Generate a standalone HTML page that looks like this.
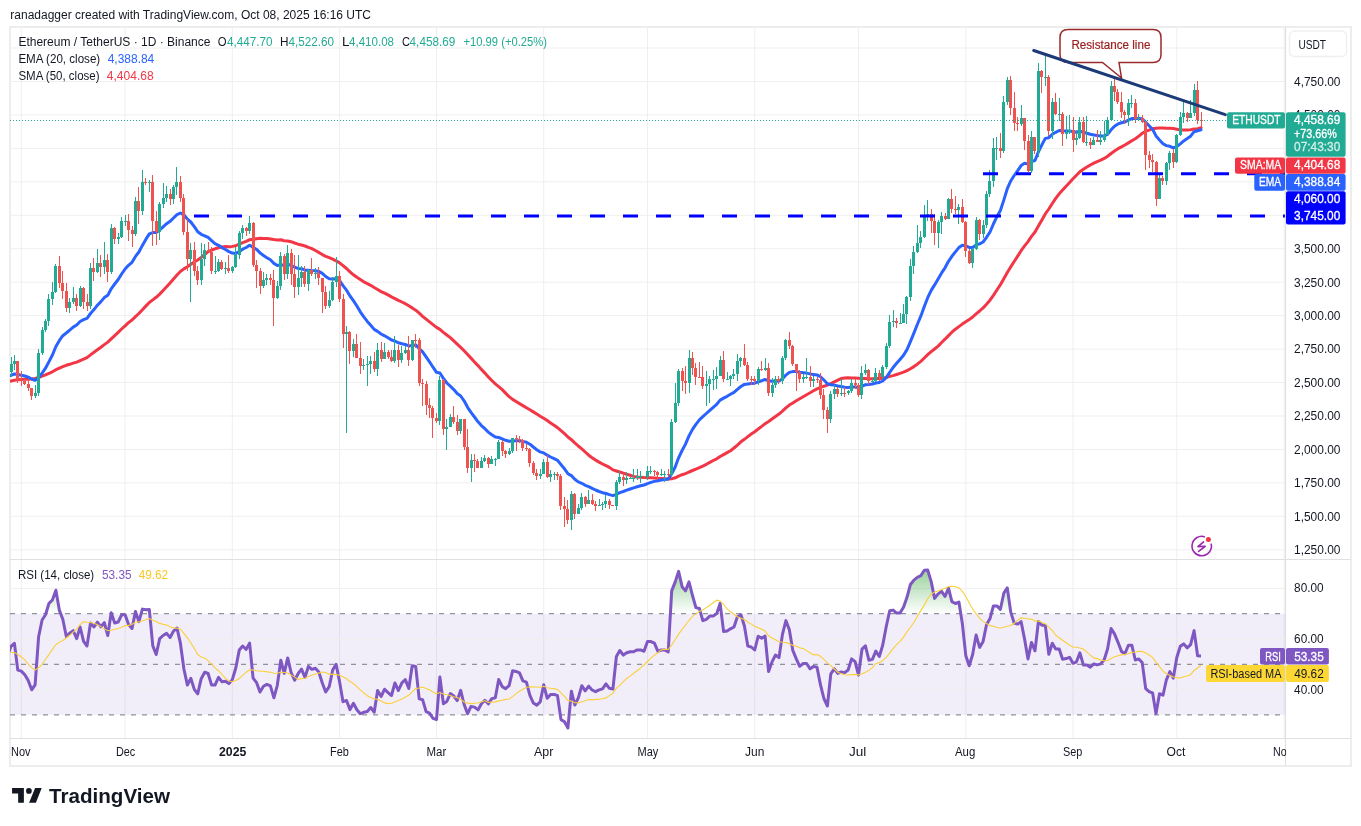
<!DOCTYPE html><html><head><meta charset="utf-8"><style>
html,body{margin:0;padding:0;background:#fff;width:1361px;height:826px;overflow:hidden}
svg{display:block;font-family:"Liberation Sans",sans-serif;will-change:transform}
</style></head><body>
<svg width="1361" height="826" viewBox="0 0 1361 826">
<defs>
<clipPath id="mp"><rect x="10" y="27" width="1275" height="532"/></clipPath>
<clipPath id="rp"><rect x="10" y="560" width="1275" height="178"/></clipPath>
</defs>
<rect width="1361" height="826" fill="#fff"/>

<rect x="10" y="27" width="1341" height="739" fill="none" stroke="#ececec" stroke-width="1.8"/>
<line x1="10" x2="1285" y1="549.8" y2="549.8" stroke="#efefef" stroke-width="1"/>
<line x1="10" x2="1285" y1="516.3" y2="516.3" stroke="#efefef" stroke-width="1"/>
<line x1="10" x2="1285" y1="482.9" y2="482.9" stroke="#efefef" stroke-width="1"/>
<line x1="10" x2="1285" y1="449.4" y2="449.4" stroke="#efefef" stroke-width="1"/>
<line x1="10" x2="1285" y1="416.0" y2="416.0" stroke="#efefef" stroke-width="1"/>
<line x1="10" x2="1285" y1="382.5" y2="382.5" stroke="#efefef" stroke-width="1"/>
<line x1="10" x2="1285" y1="349.1" y2="349.1" stroke="#efefef" stroke-width="1"/>
<line x1="10" x2="1285" y1="315.6" y2="315.6" stroke="#efefef" stroke-width="1"/>
<line x1="10" x2="1285" y1="282.2" y2="282.2" stroke="#efefef" stroke-width="1"/>
<line x1="10" x2="1285" y1="248.7" y2="248.7" stroke="#efefef" stroke-width="1"/>
<line x1="10" x2="1285" y1="215.3" y2="215.3" stroke="#efefef" stroke-width="1"/>
<line x1="10" x2="1285" y1="181.8" y2="181.8" stroke="#efefef" stroke-width="1"/>
<line x1="10" x2="1285" y1="148.4" y2="148.4" stroke="#efefef" stroke-width="1"/>
<line x1="10" x2="1285" y1="114.9" y2="114.9" stroke="#efefef" stroke-width="1"/>
<line x1="10" x2="1285" y1="81.5" y2="81.5" stroke="#efefef" stroke-width="1"/>
<line x1="10" x2="1285" y1="48.0" y2="48.0" stroke="#efefef" stroke-width="1"/>
<line x1="21.3" x2="21.3" y1="27" y2="738" stroke="#efefef" stroke-width="1"/>
<line x1="125.1" x2="125.1" y1="27" y2="738" stroke="#efefef" stroke-width="1"/>
<line x1="232.3" x2="232.3" y1="27" y2="738" stroke="#efefef" stroke-width="1"/>
<line x1="339.6" x2="339.6" y1="27" y2="738" stroke="#efefef" stroke-width="1"/>
<line x1="436.5" x2="436.5" y1="27" y2="738" stroke="#efefef" stroke-width="1"/>
<line x1="543.7" x2="543.7" y1="27" y2="738" stroke="#efefef" stroke-width="1"/>
<line x1="647.5" x2="647.5" y1="27" y2="738" stroke="#efefef" stroke-width="1"/>
<line x1="754.7" x2="754.7" y1="27" y2="738" stroke="#efefef" stroke-width="1"/>
<line x1="858.5" x2="858.5" y1="27" y2="738" stroke="#efefef" stroke-width="1"/>
<line x1="965.8" x2="965.8" y1="27" y2="738" stroke="#efefef" stroke-width="1"/>
<line x1="1073.0" x2="1073.0" y1="27" y2="738" stroke="#efefef" stroke-width="1"/>
<line x1="1176.8" x2="1176.8" y1="27" y2="738" stroke="#efefef" stroke-width="1"/>
<line x1="1284.1" x2="1284.1" y1="27" y2="738" stroke="#efefef" stroke-width="1"/>
<rect x="10" y="613.7" width="1275" height="101.2" fill="#7e57c2" fill-opacity="0.1"/>
<line x1="10" x2="1285" y1="588.4" y2="588.4" stroke="#efefef"/>
<line x1="10" x2="1285" y1="639.0" y2="639.0" stroke="#efefef"/>
<line x1="10" x2="1285" y1="689.6" y2="689.6" stroke="#efefef"/>
<line x1="10" x2="1285" y1="613.7" y2="613.7" stroke="#787b86" stroke-dasharray="5 6" stroke-width="1"/>
<line x1="10" x2="1285" y1="664.3" y2="664.3" stroke="#787b86" stroke-dasharray="5 6" stroke-width="1"/>
<line x1="10" x2="1285" y1="714.9" y2="714.9" stroke="#787b86" stroke-dasharray="5 6" stroke-width="1"/>
<g clip-path="url(#mp)">
<polyline points="4.0,382.5 7.5,381.8 10.9,381.0 14.4,380.3 17.8,379.8 21.3,379.4 24.8,379.3 28.2,379.2 31.7,378.9 35.1,378.5 38.6,377.5 42.1,376.1 45.5,374.8 49.0,373.3 52.4,371.8 55.9,369.7 59.4,368.1 62.8,366.6 66.3,365.3 69.7,364.3 73.2,363.1 76.7,362.1 80.1,360.6 83.6,359.2 87.0,357.6 90.5,354.9 94.0,352.3 97.4,349.7 100.9,347.2 104.3,344.6 107.8,342.1 111.2,338.9 114.7,335.7 118.2,332.4 121.6,329.0 125.1,325.8 128.5,322.6 132.0,320.0 135.5,316.6 138.9,313.5 142.4,309.7 145.8,306.1 149.3,302.5 152.8,299.9 156.2,297.3 159.7,294.1 163.1,290.5 166.6,286.8 170.1,282.9 173.5,279.0 177.0,275.0 180.4,271.5 183.9,268.9 187.4,266.8 190.8,264.2 194.3,262.0 197.7,260.0 201.2,257.4 204.7,254.5 208.1,251.6 211.6,250.0 215.0,248.8 218.5,247.7 222.0,247.1 225.4,246.6 228.9,246.7 232.3,246.4 235.8,245.7 239.3,244.2 242.7,242.7 246.2,241.4 249.6,239.7 253.1,239.3 256.6,238.7 260.0,238.3 263.5,238.5 266.9,238.6 270.4,239.0 273.9,239.6 277.3,240.1 280.8,239.8 284.2,240.7 287.7,241.0 291.1,241.7 294.6,243.0 298.1,244.2 301.5,245.0 305.0,246.0 308.4,247.4 311.9,248.7 315.4,250.5 318.8,252.4 322.3,254.6 325.7,256.3 329.2,257.7 332.7,259.2 336.1,260.8 339.6,262.9 343.0,265.6 346.5,268.5 350.0,271.9 353.4,274.8 356.9,277.3 360.3,279.5 363.8,281.8 367.3,283.6 370.7,285.3 374.2,287.5 377.6,289.5 381.1,291.6 384.6,293.2 388.0,294.9 391.5,296.9 394.9,298.6 398.4,300.4 401.9,302.0 405.3,303.7 408.8,305.8 412.2,307.9 415.7,310.2 419.2,313.2 422.6,316.4 426.1,319.2 429.5,321.9 433.0,324.6 436.5,327.4 439.9,329.4 443.4,332.4 446.8,335.0 450.3,337.6 453.8,340.9 457.2,344.1 460.7,347.4 464.1,350.8 467.6,354.5 471.0,358.1 474.5,361.9 478.0,365.6 481.4,369.4 484.9,373.1 488.3,376.9 491.8,380.5 495.3,383.9 498.7,386.6 502.2,389.6 505.6,393.1 509.1,396.6 512.6,399.4 516.0,401.5 519.5,403.6 522.9,405.6 526.4,407.7 529.9,409.8 533.3,411.9 536.8,414.1 540.2,416.3 543.7,418.3 547.2,420.5 550.6,422.9 554.1,425.2 557.5,427.7 561.0,430.7 564.5,433.6 567.9,437.0 571.4,439.7 574.8,442.9 578.3,446.0 581.8,448.8 585.2,452.0 588.7,455.2 592.1,457.7 595.6,460.1 599.1,462.1 602.5,464.0 606.0,465.7 609.4,467.4 612.9,469.9 616.4,471.0 619.8,472.0 623.3,473.2 626.7,474.3 630.2,475.3 633.6,476.4 637.1,477.0 640.6,477.2 644.0,477.5 647.5,477.7 650.9,477.8 654.4,478.0 657.9,478.3 661.3,478.5 664.8,478.8 668.2,479.1 671.7,478.7 675.2,477.8 678.6,476.1 682.1,474.7 685.5,473.6 689.0,472.0 692.5,470.5 695.9,469.1 699.4,467.7 702.8,466.1 706.3,464.3 709.8,462.4 713.2,460.5 716.7,458.8 720.1,456.5 723.6,454.6 727.1,452.6 730.5,450.7 734.0,448.0 737.4,445.1 740.9,441.8 744.4,439.3 747.8,436.6 751.3,434.0 754.7,431.7 758.2,429.0 761.7,426.4 765.1,423.7 768.6,421.4 772.0,419.0 775.5,416.5 779.0,414.1 782.4,411.2 785.9,407.9 789.3,405.1 792.8,402.9 796.3,400.7 799.7,398.7 803.2,396.7 806.6,394.7 810.1,392.8 813.5,390.8 817.0,388.9 820.5,387.4 823.9,386.2 827.4,385.1 830.8,383.5 834.3,381.8 837.8,380.2 841.2,378.6 844.7,378.0 848.1,377.7 851.6,378.0 855.1,378.1 858.5,378.3 862.0,378.6 865.4,378.6 868.9,378.7 872.4,378.8 875.8,378.5 879.3,378.4 882.7,378.2 886.2,377.5 889.7,376.4 893.1,375.6 896.6,374.5 900.0,373.4 903.5,372.2 907.0,370.6 910.4,368.7 913.9,366.6 917.3,364.2 920.8,361.3 924.3,358.0 927.7,354.7 931.2,351.7 934.6,349.0 938.1,346.1 941.6,342.5 945.0,339.2 948.5,335.6 951.9,332.2 955.4,329.2 958.9,326.6 962.3,324.1 965.8,321.8 969.2,319.6 972.7,317.0 976.1,313.9 979.6,311.0 983.1,307.9 986.5,304.2 990.0,300.2 993.4,295.3 996.9,290.0 1000.4,284.7 1003.8,278.8 1007.3,272.6 1010.7,266.9 1014.2,261.5 1017.7,256.1 1021.1,250.7 1024.6,245.9 1028.0,241.6 1031.5,236.4 1035.0,232.0 1038.4,226.0 1041.9,219.9 1045.3,213.9 1048.8,209.0 1052.3,203.5 1055.7,198.4 1059.2,193.8 1062.6,190.0 1066.1,186.2 1069.6,182.4 1073.0,178.7 1076.5,175.2 1079.9,171.7 1083.4,169.2 1086.9,167.0 1090.3,165.0 1093.8,163.1 1097.2,161.6 1100.7,160.2 1104.2,158.4 1107.6,156.2 1111.1,153.5 1114.5,151.0 1118.0,148.7 1121.5,146.9 1124.9,145.0 1128.4,142.9 1131.8,140.8 1135.3,138.8 1138.8,136.1 1142.2,133.3 1145.7,131.4 1149.1,130.2 1152.6,128.7 1156.0,128.2 1159.5,127.9 1163.0,127.9 1166.4,128.2 1169.9,128.3 1173.3,128.5 1176.8,129.2 1180.3,129.9 1183.7,130.0 1187.2,129.9 1190.6,129.7 1194.1,129.1 1197.6,128.7 1201.0,127.7" fill="none" stroke="#f23645" stroke-width="3" stroke-linejoin="round" stroke-linecap="round"/>
<polyline points="4.0,377.1 7.5,376.6 10.9,375.4 14.4,374.0 17.8,374.6 21.3,375.2 24.8,376.0 28.2,377.2 31.7,379.0 35.1,380.4 38.6,377.8 42.1,373.2 45.5,368.2 49.0,361.6 52.4,355.0 55.9,346.5 59.4,340.4 62.8,335.7 66.3,333.0 69.7,330.1 73.2,327.1 76.7,325.0 80.1,321.5 83.6,319.6 87.0,318.3 90.5,313.5 94.0,309.6 97.4,305.2 100.9,301.6 104.3,297.6 107.8,295.2 111.2,288.8 114.7,284.0 118.2,279.5 121.6,274.0 125.1,269.0 128.5,265.3 132.0,262.3 135.5,256.4 138.9,252.0 142.4,245.4 145.8,239.4 149.3,233.9 152.8,232.6 156.2,232.6 159.7,229.8 163.1,226.8 166.6,223.7 170.1,221.3 173.5,218.0 177.0,214.6 180.4,213.0 183.9,214.8 187.4,219.1 190.8,222.0 194.3,226.7 197.7,231.7 201.2,234.3 204.7,235.8 208.1,237.4 211.6,240.6 215.0,243.6 218.5,245.3 222.0,247.6 225.4,249.5 228.9,251.6 232.3,253.1 235.8,253.4 239.3,251.5 242.7,249.2 246.2,247.5 249.6,245.2 253.1,247.1 256.6,249.4 260.0,252.9 263.5,255.5 266.9,257.7 270.4,259.8 273.9,263.4 277.3,265.5 280.8,264.6 284.2,265.5 287.7,264.3 291.1,265.3 294.6,267.3 298.1,268.4 301.5,268.7 305.0,270.2 308.4,270.2 311.9,270.6 315.4,270.8 318.8,271.4 322.3,273.4 325.7,276.5 329.2,278.7 332.7,279.1 336.1,278.7 339.6,280.7 343.0,285.7 346.5,290.2 350.0,296.0 353.4,300.6 356.9,306.0 360.3,311.8 363.8,316.9 367.3,321.4 370.7,325.2 374.2,329.4 377.6,331.4 381.1,334.0 384.6,335.8 388.0,337.8 391.5,340.0 394.9,341.0 398.4,342.8 401.9,343.8 405.3,344.4 408.8,346.0 412.2,345.4 415.7,344.9 419.2,348.5 422.6,351.8 426.1,356.9 429.5,361.8 433.0,367.2 436.5,372.3 439.9,373.0 443.4,378.3 446.8,383.0 450.3,386.2 453.8,389.6 457.2,393.5 460.7,396.0 464.1,400.8 467.6,407.3 471.0,412.3 474.5,417.0 478.0,421.8 481.4,425.6 484.9,428.7 488.3,432.1 491.8,434.7 495.3,437.0 498.7,437.5 502.2,438.8 505.6,440.3 509.1,441.3 512.6,441.0 516.0,440.8 519.5,440.7 522.9,441.4 526.4,442.2 529.9,444.2 533.3,447.0 536.8,449.7 540.2,451.9 543.7,452.9 547.2,455.2 550.6,457.0 554.1,458.6 557.5,460.3 561.0,464.6 564.5,468.8 567.9,473.7 571.4,475.6 574.8,479.2 578.3,481.9 581.8,483.3 585.2,485.3 588.7,486.6 592.1,488.3 595.6,490.0 599.1,491.5 602.5,492.7 606.0,493.5 609.4,494.6 612.9,495.6 616.4,494.3 619.8,492.7 623.3,491.5 626.7,490.2 630.2,489.0 633.6,487.9 637.1,486.8 640.6,485.8 644.0,485.0 647.5,483.6 650.9,482.4 654.4,481.4 657.9,480.7 661.3,480.1 664.8,479.6 668.2,479.1 671.7,473.7 675.2,467.0 678.6,457.8 682.1,450.5 685.5,444.1 689.0,435.9 692.5,429.4 695.9,424.4 699.4,419.9 702.8,416.7 706.3,413.5 709.8,410.3 713.2,407.3 716.7,404.3 720.1,400.1 723.6,398.1 727.1,396.3 730.5,394.3 734.0,392.4 737.4,389.4 740.9,386.5 744.4,384.4 747.8,383.9 751.3,383.4 754.7,383.2 758.2,381.8 761.7,380.7 765.1,379.5 768.6,380.8 772.0,381.2 775.5,381.0 779.0,381.0 782.4,378.9 785.9,375.1 789.3,372.4 792.8,371.6 796.3,371.6 799.7,372.3 803.2,372.7 806.6,373.1 810.1,373.9 813.5,374.4 817.0,374.9 820.5,376.8 823.9,380.0 827.4,383.7 830.8,384.7 834.3,385.1 837.8,386.0 841.2,386.6 844.7,387.2 848.1,387.6 851.6,387.1 855.1,386.9 858.5,387.7 862.0,386.3 865.4,384.7 868.9,384.4 872.4,384.0 875.8,383.0 879.3,382.5 882.7,381.0 886.2,377.7 889.7,372.4 893.1,367.5 896.6,363.3 900.0,359.5 903.5,355.2 907.0,349.6 910.4,341.7 913.9,333.1 917.3,324.5 920.8,316.2 924.3,306.5 927.7,297.7 931.2,290.4 934.6,284.9 938.1,278.9 941.6,272.9 945.0,267.8 948.5,261.3 951.9,256.3 955.4,251.9 958.9,247.6 962.3,245.2 965.8,245.8 969.2,247.4 972.7,247.5 976.1,244.9 979.6,243.9 983.1,242.0 986.5,237.4 990.0,232.0 993.4,224.0 996.9,216.7 1000.4,210.5 1003.8,200.1 1007.3,188.7 1010.7,181.0 1014.2,175.5 1017.7,170.6 1021.1,165.6 1024.6,163.3 1028.0,164.0 1031.5,161.5 1035.0,160.5 1038.4,151.9 1041.9,144.8 1045.3,138.4 1048.8,137.7 1052.3,134.3 1055.7,132.3 1059.2,130.5 1062.6,130.8 1066.1,131.0 1069.6,130.9 1073.0,131.8 1076.5,132.3 1079.9,131.3 1083.4,132.3 1086.9,133.2 1090.3,134.3 1093.8,134.9 1097.2,135.5 1100.7,136.0 1104.2,135.9 1107.6,134.4 1111.1,129.8 1114.5,126.2 1118.0,123.9 1121.5,122.8 1124.9,122.0 1128.4,120.2 1131.8,118.6 1135.3,118.6 1138.8,118.5 1142.2,118.8 1145.7,122.3 1149.1,125.8 1152.6,129.3 1156.0,135.9 1159.5,139.9 1163.0,143.7 1166.4,145.6 1169.9,146.3 1173.3,147.8 1176.8,146.6 1180.3,143.8 1183.7,140.9 1187.2,138.6 1190.6,136.2 1194.1,131.7 1197.6,130.7 1201.0,129.7" fill="none" stroke="#2962ff" stroke-width="3" stroke-linejoin="round" stroke-linecap="round"/>
</g>
<g clip-path="url(#mp)" shape-rendering="crispEdges">
<rect x="4" y="375" width="1" height="11" fill="#22ab94"/>
<rect x="3" y="381" width="3" height="4" fill="#22ab94"/>
<rect x="7" y="371" width="1" height="12" fill="#22ab94"/>
<rect x="6" y="372" width="3" height="9" fill="#22ab94"/>
<rect x="11" y="357" width="1" height="20" fill="#22ab94"/>
<rect x="10" y="364" width="3" height="8" fill="#22ab94"/>
<rect x="14" y="355" width="1" height="15" fill="#22ab94"/>
<rect x="13" y="361" width="3" height="3" fill="#22ab94"/>
<rect x="17" y="361" width="1" height="22" fill="#ef5350"/>
<rect x="16" y="361" width="3" height="19" fill="#ef5350"/>
<rect x="21" y="371" width="1" height="15" fill="#ef5350"/>
<rect x="20" y="380" width="3" height="1" fill="#ef5350"/>
<rect x="24" y="379" width="1" height="6" fill="#ef5350"/>
<rect x="23" y="381" width="3" height="3" fill="#ef5350"/>
<rect x="28" y="379" width="1" height="12" fill="#ef5350"/>
<rect x="27" y="384" width="3" height="4" fill="#ef5350"/>
<rect x="31" y="388" width="1" height="12" fill="#ef5350"/>
<rect x="30" y="388" width="3" height="8" fill="#ef5350"/>
<rect x="35" y="385" width="1" height="13" fill="#22ab94"/>
<rect x="34" y="393" width="3" height="3" fill="#22ab94"/>
<rect x="38" y="349" width="1" height="47" fill="#22ab94"/>
<rect x="37" y="353" width="3" height="40" fill="#22ab94"/>
<rect x="42" y="327" width="1" height="28" fill="#22ab94"/>
<rect x="41" y="330" width="3" height="23" fill="#22ab94"/>
<rect x="45" y="319" width="1" height="13" fill="#22ab94"/>
<rect x="44" y="321" width="3" height="9" fill="#22ab94"/>
<rect x="48" y="294" width="1" height="32" fill="#22ab94"/>
<rect x="47" y="299" width="3" height="22" fill="#22ab94"/>
<rect x="52" y="282" width="1" height="23" fill="#22ab94"/>
<rect x="51" y="292" width="3" height="7" fill="#22ab94"/>
<rect x="55" y="264" width="1" height="29" fill="#22ab94"/>
<rect x="54" y="266" width="3" height="26" fill="#22ab94"/>
<rect x="59" y="256" width="1" height="32" fill="#ef5350"/>
<rect x="58" y="266" width="3" height="17" fill="#ef5350"/>
<rect x="62" y="271" width="1" height="28" fill="#ef5350"/>
<rect x="61" y="283" width="3" height="8" fill="#ef5350"/>
<rect x="66" y="283" width="1" height="29" fill="#ef5350"/>
<rect x="65" y="291" width="3" height="17" fill="#ef5350"/>
<rect x="69" y="298" width="1" height="15" fill="#22ab94"/>
<rect x="68" y="302" width="3" height="6" fill="#22ab94"/>
<rect x="73" y="287" width="1" height="17" fill="#22ab94"/>
<rect x="72" y="298" width="3" height="4" fill="#22ab94"/>
<rect x="76" y="294" width="1" height="17" fill="#ef5350"/>
<rect x="75" y="298" width="3" height="8" fill="#ef5350"/>
<rect x="80" y="286" width="1" height="21" fill="#22ab94"/>
<rect x="79" y="288" width="3" height="18" fill="#22ab94"/>
<rect x="83" y="287" width="1" height="22" fill="#ef5350"/>
<rect x="82" y="288" width="3" height="14" fill="#ef5350"/>
<rect x="87" y="294" width="1" height="17" fill="#ef5350"/>
<rect x="86" y="302" width="3" height="4" fill="#ef5350"/>
<rect x="90" y="263" width="1" height="46" fill="#22ab94"/>
<rect x="89" y="268" width="3" height="38" fill="#22ab94"/>
<rect x="93" y="258" width="1" height="23" fill="#ef5350"/>
<rect x="92" y="268" width="3" height="4" fill="#ef5350"/>
<rect x="97" y="249" width="1" height="24" fill="#22ab94"/>
<rect x="96" y="263" width="3" height="9" fill="#22ab94"/>
<rect x="100" y="255" width="1" height="22" fill="#ef5350"/>
<rect x="99" y="263" width="3" height="4" fill="#ef5350"/>
<rect x="104" y="242" width="1" height="32" fill="#22ab94"/>
<rect x="103" y="260" width="3" height="7" fill="#22ab94"/>
<rect x="107" y="254" width="1" height="28" fill="#ef5350"/>
<rect x="106" y="260" width="3" height="12" fill="#ef5350"/>
<rect x="111" y="224" width="1" height="50" fill="#22ab94"/>
<rect x="110" y="228" width="3" height="44" fill="#22ab94"/>
<rect x="114" y="227" width="1" height="17" fill="#ef5350"/>
<rect x="113" y="228" width="3" height="11" fill="#ef5350"/>
<rect x="118" y="233" width="1" height="11" fill="#22ab94"/>
<rect x="117" y="237" width="3" height="2" fill="#22ab94"/>
<rect x="121" y="217" width="1" height="21" fill="#22ab94"/>
<rect x="120" y="221" width="3" height="16" fill="#22ab94"/>
<rect x="125" y="215" width="1" height="11" fill="#22ab94"/>
<rect x="124" y="221" width="3" height="1" fill="#22ab94"/>
<rect x="128" y="214" width="1" height="27" fill="#ef5350"/>
<rect x="127" y="221" width="3" height="9" fill="#ef5350"/>
<rect x="132" y="226" width="1" height="21" fill="#ef5350"/>
<rect x="131" y="230" width="3" height="4" fill="#ef5350"/>
<rect x="135" y="197" width="1" height="39" fill="#22ab94"/>
<rect x="134" y="201" width="3" height="33" fill="#22ab94"/>
<rect x="138" y="187" width="1" height="37" fill="#ef5350"/>
<rect x="137" y="201" width="3" height="10" fill="#ef5350"/>
<rect x="142" y="170" width="1" height="45" fill="#22ab94"/>
<rect x="141" y="182" width="3" height="29" fill="#22ab94"/>
<rect x="145" y="178" width="1" height="7" fill="#ef5350"/>
<rect x="144" y="182" width="3" height="1" fill="#ef5350"/>
<rect x="149" y="180" width="1" height="12" fill="#22ab94"/>
<rect x="148" y="182" width="3" height="1" fill="#22ab94"/>
<rect x="152" y="175" width="1" height="71" fill="#ef5350"/>
<rect x="151" y="182" width="3" height="39" fill="#ef5350"/>
<rect x="156" y="211" width="1" height="34" fill="#ef5350"/>
<rect x="155" y="221" width="3" height="11" fill="#ef5350"/>
<rect x="159" y="202" width="1" height="38" fill="#22ab94"/>
<rect x="158" y="204" width="3" height="28" fill="#22ab94"/>
<rect x="163" y="183" width="1" height="25" fill="#22ab94"/>
<rect x="162" y="198" width="3" height="6" fill="#22ab94"/>
<rect x="166" y="186" width="1" height="16" fill="#22ab94"/>
<rect x="165" y="194" width="3" height="4" fill="#22ab94"/>
<rect x="170" y="189" width="1" height="16" fill="#ef5350"/>
<rect x="169" y="194" width="3" height="5" fill="#ef5350"/>
<rect x="173" y="185" width="1" height="19" fill="#22ab94"/>
<rect x="172" y="187" width="3" height="12" fill="#22ab94"/>
<rect x="176" y="167" width="1" height="28" fill="#22ab94"/>
<rect x="175" y="182" width="3" height="5" fill="#22ab94"/>
<rect x="180" y="176" width="1" height="26" fill="#ef5350"/>
<rect x="179" y="182" width="3" height="16" fill="#ef5350"/>
<rect x="183" y="194" width="1" height="41" fill="#ef5350"/>
<rect x="182" y="198" width="3" height="34" fill="#ef5350"/>
<rect x="187" y="219" width="1" height="52" fill="#ef5350"/>
<rect x="186" y="232" width="3" height="27" fill="#ef5350"/>
<rect x="190" y="243" width="1" height="59" fill="#22ab94"/>
<rect x="189" y="250" width="3" height="9" fill="#22ab94"/>
<rect x="194" y="242" width="1" height="34" fill="#ef5350"/>
<rect x="193" y="250" width="3" height="21" fill="#ef5350"/>
<rect x="197" y="266" width="1" height="19" fill="#ef5350"/>
<rect x="196" y="271" width="3" height="9" fill="#ef5350"/>
<rect x="201" y="243" width="1" height="42" fill="#22ab94"/>
<rect x="200" y="259" width="3" height="21" fill="#22ab94"/>
<rect x="204" y="244" width="1" height="22" fill="#22ab94"/>
<rect x="203" y="250" width="3" height="9" fill="#22ab94"/>
<rect x="208" y="242" width="1" height="10" fill="#ef5350"/>
<rect x="207" y="250" width="3" height="2" fill="#ef5350"/>
<rect x="211" y="247" width="1" height="27" fill="#ef5350"/>
<rect x="210" y="252" width="3" height="19" fill="#ef5350"/>
<rect x="215" y="256" width="1" height="18" fill="#22ab94"/>
<rect x="214" y="271" width="3" height="1" fill="#22ab94"/>
<rect x="218" y="259" width="1" height="13" fill="#22ab94"/>
<rect x="217" y="262" width="3" height="9" fill="#22ab94"/>
<rect x="221" y="260" width="1" height="10" fill="#ef5350"/>
<rect x="220" y="262" width="3" height="7" fill="#ef5350"/>
<rect x="225" y="262" width="1" height="12" fill="#22ab94"/>
<rect x="224" y="268" width="3" height="1" fill="#22ab94"/>
<rect x="228" y="255" width="1" height="18" fill="#ef5350"/>
<rect x="227" y="268" width="3" height="3" fill="#ef5350"/>
<rect x="232" y="266" width="1" height="7" fill="#22ab94"/>
<rect x="231" y="267" width="3" height="4" fill="#22ab94"/>
<rect x="235" y="247" width="1" height="21" fill="#22ab94"/>
<rect x="234" y="255" width="3" height="12" fill="#22ab94"/>
<rect x="239" y="231" width="1" height="28" fill="#22ab94"/>
<rect x="238" y="233" width="3" height="22" fill="#22ab94"/>
<rect x="242" y="225" width="1" height="14" fill="#22ab94"/>
<rect x="241" y="228" width="3" height="5" fill="#22ab94"/>
<rect x="246" y="227" width="1" height="9" fill="#ef5350"/>
<rect x="245" y="228" width="3" height="3" fill="#ef5350"/>
<rect x="249" y="216" width="1" height="18" fill="#22ab94"/>
<rect x="248" y="223" width="3" height="8" fill="#22ab94"/>
<rect x="253" y="222" width="1" height="45" fill="#ef5350"/>
<rect x="252" y="223" width="3" height="42" fill="#ef5350"/>
<rect x="256" y="260" width="1" height="28" fill="#ef5350"/>
<rect x="255" y="265" width="3" height="6" fill="#ef5350"/>
<rect x="260" y="268" width="1" height="26" fill="#ef5350"/>
<rect x="259" y="271" width="3" height="15" fill="#ef5350"/>
<rect x="263" y="272" width="1" height="16" fill="#22ab94"/>
<rect x="262" y="280" width="3" height="6" fill="#22ab94"/>
<rect x="266" y="274" width="1" height="11" fill="#22ab94"/>
<rect x="265" y="278" width="3" height="2" fill="#22ab94"/>
<rect x="270" y="274" width="1" height="11" fill="#ef5350"/>
<rect x="269" y="278" width="3" height="2" fill="#ef5350"/>
<rect x="273" y="270" width="1" height="56" fill="#ef5350"/>
<rect x="272" y="280" width="3" height="18" fill="#ef5350"/>
<rect x="277" y="281" width="1" height="18" fill="#22ab94"/>
<rect x="276" y="286" width="3" height="12" fill="#22ab94"/>
<rect x="280" y="252" width="1" height="38" fill="#22ab94"/>
<rect x="279" y="256" width="3" height="30" fill="#22ab94"/>
<rect x="284" y="254" width="1" height="26" fill="#ef5350"/>
<rect x="283" y="256" width="3" height="18" fill="#ef5350"/>
<rect x="287" y="245" width="1" height="34" fill="#22ab94"/>
<rect x="286" y="253" width="3" height="21" fill="#22ab94"/>
<rect x="291" y="249" width="1" height="36" fill="#ef5350"/>
<rect x="290" y="253" width="3" height="21" fill="#ef5350"/>
<rect x="294" y="255" width="1" height="43" fill="#ef5350"/>
<rect x="293" y="274" width="3" height="13" fill="#ef5350"/>
<rect x="298" y="255" width="1" height="40" fill="#22ab94"/>
<rect x="297" y="278" width="3" height="9" fill="#22ab94"/>
<rect x="301" y="266" width="1" height="21" fill="#22ab94"/>
<rect x="300" y="272" width="3" height="6" fill="#22ab94"/>
<rect x="304" y="266" width="1" height="21" fill="#ef5350"/>
<rect x="303" y="272" width="3" height="12" fill="#ef5350"/>
<rect x="308" y="269" width="1" height="22" fill="#22ab94"/>
<rect x="307" y="270" width="3" height="14" fill="#22ab94"/>
<rect x="311" y="258" width="1" height="18" fill="#ef5350"/>
<rect x="310" y="270" width="3" height="4" fill="#ef5350"/>
<rect x="315" y="268" width="1" height="11" fill="#22ab94"/>
<rect x="314" y="273" width="3" height="1" fill="#22ab94"/>
<rect x="318" y="267" width="1" height="18" fill="#ef5350"/>
<rect x="317" y="273" width="3" height="5" fill="#ef5350"/>
<rect x="322" y="278" width="1" height="35" fill="#ef5350"/>
<rect x="321" y="278" width="3" height="14" fill="#ef5350"/>
<rect x="325" y="286" width="1" height="23" fill="#ef5350"/>
<rect x="324" y="292" width="3" height="14" fill="#ef5350"/>
<rect x="329" y="291" width="1" height="17" fill="#22ab94"/>
<rect x="328" y="300" width="3" height="6" fill="#22ab94"/>
<rect x="332" y="277" width="1" height="24" fill="#22ab94"/>
<rect x="331" y="282" width="3" height="18" fill="#22ab94"/>
<rect x="336" y="257" width="1" height="30" fill="#22ab94"/>
<rect x="335" y="276" width="3" height="6" fill="#22ab94"/>
<rect x="339" y="271" width="1" height="31" fill="#ef5350"/>
<rect x="338" y="276" width="3" height="23" fill="#ef5350"/>
<rect x="343" y="294" width="1" height="54" fill="#ef5350"/>
<rect x="342" y="299" width="3" height="35" fill="#ef5350"/>
<rect x="346" y="326" width="1" height="107" fill="#22ab94"/>
<rect x="345" y="332" width="3" height="2" fill="#22ab94"/>
<rect x="349" y="331" width="1" height="33" fill="#ef5350"/>
<rect x="348" y="332" width="3" height="19" fill="#ef5350"/>
<rect x="353" y="339" width="1" height="18" fill="#22ab94"/>
<rect x="352" y="344" width="3" height="7" fill="#22ab94"/>
<rect x="356" y="334" width="1" height="24" fill="#ef5350"/>
<rect x="355" y="344" width="3" height="14" fill="#ef5350"/>
<rect x="360" y="342" width="1" height="32" fill="#ef5350"/>
<rect x="359" y="358" width="3" height="8" fill="#ef5350"/>
<rect x="363" y="359" width="1" height="11" fill="#22ab94"/>
<rect x="362" y="365" width="3" height="1" fill="#22ab94"/>
<rect x="367" y="356" width="1" height="30" fill="#22ab94"/>
<rect x="366" y="364" width="3" height="1" fill="#22ab94"/>
<rect x="370" y="356" width="1" height="18" fill="#22ab94"/>
<rect x="369" y="361" width="3" height="3" fill="#22ab94"/>
<rect x="374" y="352" width="1" height="20" fill="#ef5350"/>
<rect x="373" y="361" width="3" height="8" fill="#ef5350"/>
<rect x="377" y="343" width="1" height="33" fill="#22ab94"/>
<rect x="376" y="350" width="3" height="19" fill="#22ab94"/>
<rect x="381" y="342" width="1" height="20" fill="#ef5350"/>
<rect x="380" y="350" width="3" height="9" fill="#ef5350"/>
<rect x="384" y="343" width="1" height="16" fill="#22ab94"/>
<rect x="383" y="352" width="3" height="7" fill="#22ab94"/>
<rect x="388" y="350" width="1" height="9" fill="#ef5350"/>
<rect x="387" y="352" width="3" height="5" fill="#ef5350"/>
<rect x="391" y="350" width="1" height="12" fill="#ef5350"/>
<rect x="390" y="357" width="3" height="4" fill="#ef5350"/>
<rect x="394" y="336" width="1" height="27" fill="#22ab94"/>
<rect x="393" y="350" width="3" height="11" fill="#22ab94"/>
<rect x="398" y="345" width="1" height="22" fill="#ef5350"/>
<rect x="397" y="350" width="3" height="10" fill="#ef5350"/>
<rect x="401" y="346" width="1" height="17" fill="#22ab94"/>
<rect x="400" y="353" width="3" height="7" fill="#22ab94"/>
<rect x="405" y="346" width="1" height="8" fill="#22ab94"/>
<rect x="404" y="350" width="3" height="3" fill="#22ab94"/>
<rect x="408" y="336" width="1" height="30" fill="#ef5350"/>
<rect x="407" y="350" width="3" height="10" fill="#ef5350"/>
<rect x="412" y="340" width="1" height="21" fill="#22ab94"/>
<rect x="411" y="340" width="3" height="20" fill="#22ab94"/>
<rect x="415" y="334" width="1" height="14" fill="#ef5350"/>
<rect x="414" y="340" width="3" height="1" fill="#ef5350"/>
<rect x="419" y="338" width="1" height="48" fill="#ef5350"/>
<rect x="418" y="340" width="3" height="43" fill="#ef5350"/>
<rect x="422" y="379" width="1" height="27" fill="#ef5350"/>
<rect x="421" y="383" width="3" height="1" fill="#ef5350"/>
<rect x="426" y="381" width="1" height="34" fill="#ef5350"/>
<rect x="425" y="384" width="3" height="21" fill="#ef5350"/>
<rect x="429" y="398" width="1" height="20" fill="#ef5350"/>
<rect x="428" y="405" width="3" height="3" fill="#ef5350"/>
<rect x="432" y="406" width="1" height="32" fill="#ef5350"/>
<rect x="431" y="408" width="3" height="10" fill="#ef5350"/>
<rect x="436" y="413" width="1" height="10" fill="#ef5350"/>
<rect x="435" y="418" width="3" height="3" fill="#ef5350"/>
<rect x="439" y="376" width="1" height="49" fill="#22ab94"/>
<rect x="438" y="380" width="3" height="41" fill="#22ab94"/>
<rect x="443" y="379" width="1" height="56" fill="#ef5350"/>
<rect x="442" y="380" width="3" height="49" fill="#ef5350"/>
<rect x="446" y="419" width="1" height="31" fill="#22ab94"/>
<rect x="445" y="427" width="3" height="2" fill="#22ab94"/>
<rect x="450" y="414" width="1" height="13" fill="#22ab94"/>
<rect x="449" y="417" width="3" height="10" fill="#22ab94"/>
<rect x="453" y="406" width="1" height="18" fill="#ef5350"/>
<rect x="452" y="417" width="3" height="5" fill="#ef5350"/>
<rect x="457" y="415" width="1" height="20" fill="#ef5350"/>
<rect x="456" y="422" width="3" height="9" fill="#ef5350"/>
<rect x="460" y="419" width="1" height="15" fill="#22ab94"/>
<rect x="459" y="419" width="3" height="12" fill="#22ab94"/>
<rect x="464" y="419" width="1" height="31" fill="#ef5350"/>
<rect x="463" y="419" width="3" height="28" fill="#ef5350"/>
<rect x="467" y="429" width="1" height="44" fill="#ef5350"/>
<rect x="466" y="447" width="3" height="21" fill="#ef5350"/>
<rect x="471" y="454" width="1" height="28" fill="#22ab94"/>
<rect x="470" y="460" width="3" height="8" fill="#22ab94"/>
<rect x="474" y="454" width="1" height="18" fill="#ef5350"/>
<rect x="473" y="460" width="3" height="1" fill="#ef5350"/>
<rect x="477" y="459" width="1" height="9" fill="#ef5350"/>
<rect x="476" y="461" width="3" height="7" fill="#ef5350"/>
<rect x="481" y="457" width="1" height="11" fill="#22ab94"/>
<rect x="480" y="461" width="3" height="7" fill="#22ab94"/>
<rect x="484" y="455" width="1" height="7" fill="#22ab94"/>
<rect x="483" y="458" width="3" height="3" fill="#22ab94"/>
<rect x="488" y="457" width="1" height="11" fill="#ef5350"/>
<rect x="487" y="458" width="3" height="6" fill="#ef5350"/>
<rect x="491" y="456" width="1" height="8" fill="#22ab94"/>
<rect x="490" y="459" width="3" height="5" fill="#22ab94"/>
<rect x="495" y="458" width="1" height="8" fill="#22ab94"/>
<rect x="494" y="459" width="3" height="1" fill="#22ab94"/>
<rect x="498" y="440" width="1" height="19" fill="#22ab94"/>
<rect x="497" y="442" width="3" height="17" fill="#22ab94"/>
<rect x="502" y="440" width="1" height="16" fill="#ef5350"/>
<rect x="501" y="442" width="3" height="9" fill="#ef5350"/>
<rect x="505" y="450" width="1" height="8" fill="#ef5350"/>
<rect x="504" y="451" width="3" height="3" fill="#ef5350"/>
<rect x="509" y="448" width="1" height="7" fill="#22ab94"/>
<rect x="508" y="451" width="3" height="3" fill="#22ab94"/>
<rect x="512" y="438" width="1" height="15" fill="#22ab94"/>
<rect x="511" y="438" width="3" height="13" fill="#22ab94"/>
<rect x="516" y="435" width="1" height="16" fill="#ef5350"/>
<rect x="515" y="438" width="3" height="1" fill="#ef5350"/>
<rect x="519" y="436" width="1" height="7" fill="#ef5350"/>
<rect x="518" y="439" width="3" height="1" fill="#ef5350"/>
<rect x="522" y="439" width="1" height="12" fill="#ef5350"/>
<rect x="521" y="440" width="3" height="8" fill="#ef5350"/>
<rect x="526" y="444" width="1" height="7" fill="#ef5350"/>
<rect x="525" y="448" width="3" height="1" fill="#ef5350"/>
<rect x="529" y="448" width="1" height="19" fill="#ef5350"/>
<rect x="528" y="449" width="3" height="14" fill="#ef5350"/>
<rect x="533" y="461" width="1" height="14" fill="#ef5350"/>
<rect x="532" y="463" width="3" height="10" fill="#ef5350"/>
<rect x="536" y="469" width="1" height="11" fill="#ef5350"/>
<rect x="535" y="473" width="3" height="3" fill="#ef5350"/>
<rect x="540" y="469" width="1" height="10" fill="#22ab94"/>
<rect x="539" y="474" width="3" height="2" fill="#22ab94"/>
<rect x="543" y="459" width="1" height="15" fill="#22ab94"/>
<rect x="542" y="462" width="3" height="12" fill="#22ab94"/>
<rect x="547" y="455" width="1" height="23" fill="#ef5350"/>
<rect x="546" y="462" width="3" height="15" fill="#ef5350"/>
<rect x="550" y="470" width="1" height="12" fill="#22ab94"/>
<rect x="549" y="474" width="3" height="3" fill="#22ab94"/>
<rect x="554" y="472" width="1" height="8" fill="#22ab94"/>
<rect x="553" y="474" width="3" height="1" fill="#22ab94"/>
<rect x="557" y="472" width="1" height="8" fill="#ef5350"/>
<rect x="556" y="474" width="3" height="2" fill="#ef5350"/>
<rect x="560" y="474" width="1" height="36" fill="#ef5350"/>
<rect x="559" y="476" width="3" height="30" fill="#ef5350"/>
<rect x="564" y="497" width="1" height="30" fill="#ef5350"/>
<rect x="563" y="506" width="3" height="3" fill="#ef5350"/>
<rect x="567" y="500" width="1" height="24" fill="#ef5350"/>
<rect x="566" y="509" width="3" height="11" fill="#ef5350"/>
<rect x="571" y="491" width="1" height="39" fill="#22ab94"/>
<rect x="570" y="494" width="3" height="26" fill="#22ab94"/>
<rect x="574" y="493" width="1" height="26" fill="#ef5350"/>
<rect x="573" y="494" width="3" height="20" fill="#ef5350"/>
<rect x="578" y="504" width="1" height="10" fill="#22ab94"/>
<rect x="577" y="508" width="3" height="6" fill="#22ab94"/>
<rect x="581" y="493" width="1" height="17" fill="#22ab94"/>
<rect x="580" y="497" width="3" height="11" fill="#22ab94"/>
<rect x="585" y="496" width="1" height="11" fill="#ef5350"/>
<rect x="584" y="497" width="3" height="7" fill="#ef5350"/>
<rect x="588" y="490" width="1" height="14" fill="#22ab94"/>
<rect x="587" y="500" width="3" height="4" fill="#22ab94"/>
<rect x="592" y="494" width="1" height="11" fill="#ef5350"/>
<rect x="591" y="500" width="3" height="4" fill="#ef5350"/>
<rect x="595" y="501" width="1" height="10" fill="#ef5350"/>
<rect x="594" y="504" width="3" height="2" fill="#ef5350"/>
<rect x="599" y="499" width="1" height="7" fill="#22ab94"/>
<rect x="598" y="505" width="3" height="1" fill="#22ab94"/>
<rect x="602" y="502" width="1" height="8" fill="#22ab94"/>
<rect x="601" y="504" width="3" height="1" fill="#22ab94"/>
<rect x="605" y="495" width="1" height="13" fill="#22ab94"/>
<rect x="604" y="501" width="3" height="3" fill="#22ab94"/>
<rect x="609" y="499" width="1" height="10" fill="#ef5350"/>
<rect x="608" y="501" width="3" height="4" fill="#ef5350"/>
<rect x="612" y="505" width="1" height="1" fill="#ef5350"/>
<rect x="611" y="505" width="3" height="1" fill="#ef5350"/>
<rect x="616" y="480" width="1" height="30" fill="#22ab94"/>
<rect x="615" y="482" width="3" height="24" fill="#22ab94"/>
<rect x="619" y="471" width="1" height="13" fill="#22ab94"/>
<rect x="618" y="477" width="3" height="5" fill="#22ab94"/>
<rect x="623" y="475" width="1" height="11" fill="#ef5350"/>
<rect x="622" y="477" width="3" height="3" fill="#ef5350"/>
<rect x="626" y="472" width="1" height="12" fill="#22ab94"/>
<rect x="625" y="478" width="3" height="2" fill="#22ab94"/>
<rect x="630" y="477" width="1" height="1" fill="#22ab94"/>
<rect x="629" y="478" width="3" height="1" fill="#22ab94"/>
<rect x="633" y="469" width="1" height="13" fill="#22ab94"/>
<rect x="632" y="478" width="3" height="1" fill="#22ab94"/>
<rect x="637" y="469" width="1" height="11" fill="#22ab94"/>
<rect x="636" y="476" width="3" height="2" fill="#22ab94"/>
<rect x="640" y="471" width="1" height="12" fill="#22ab94"/>
<rect x="639" y="476" width="3" height="1" fill="#22ab94"/>
<rect x="644" y="476" width="1" height="3" fill="#ef5350"/>
<rect x="643" y="476" width="3" height="1" fill="#ef5350"/>
<rect x="647" y="466" width="1" height="14" fill="#22ab94"/>
<rect x="646" y="471" width="3" height="6" fill="#22ab94"/>
<rect x="650" y="466" width="1" height="8" fill="#22ab94"/>
<rect x="649" y="471" width="3" height="1" fill="#22ab94"/>
<rect x="654" y="470" width="1" height="6" fill="#ef5350"/>
<rect x="653" y="471" width="3" height="1" fill="#ef5350"/>
<rect x="657" y="471" width="1" height="9" fill="#ef5350"/>
<rect x="656" y="472" width="3" height="3" fill="#ef5350"/>
<rect x="661" y="469" width="1" height="7" fill="#22ab94"/>
<rect x="660" y="474" width="3" height="1" fill="#22ab94"/>
<rect x="664" y="471" width="1" height="11" fill="#22ab94"/>
<rect x="663" y="474" width="3" height="1" fill="#22ab94"/>
<rect x="668" y="469" width="1" height="8" fill="#ef5350"/>
<rect x="667" y="474" width="3" height="1" fill="#ef5350"/>
<rect x="671" y="419" width="1" height="57" fill="#22ab94"/>
<rect x="670" y="422" width="3" height="53" fill="#22ab94"/>
<rect x="675" y="383" width="1" height="40" fill="#22ab94"/>
<rect x="674" y="403" width="3" height="19" fill="#22ab94"/>
<rect x="678" y="369" width="1" height="37" fill="#22ab94"/>
<rect x="677" y="371" width="3" height="32" fill="#22ab94"/>
<rect x="682" y="368" width="1" height="23" fill="#ef5350"/>
<rect x="681" y="371" width="3" height="10" fill="#ef5350"/>
<rect x="685" y="366" width="1" height="28" fill="#ef5350"/>
<rect x="684" y="381" width="3" height="2" fill="#ef5350"/>
<rect x="689" y="350" width="1" height="43" fill="#22ab94"/>
<rect x="688" y="358" width="3" height="25" fill="#22ab94"/>
<rect x="692" y="352" width="1" height="23" fill="#ef5350"/>
<rect x="691" y="358" width="3" height="10" fill="#ef5350"/>
<rect x="695" y="363" width="1" height="22" fill="#ef5350"/>
<rect x="694" y="368" width="3" height="9" fill="#ef5350"/>
<rect x="699" y="362" width="1" height="15" fill="#ef5350"/>
<rect x="698" y="377" width="3" height="1" fill="#ef5350"/>
<rect x="702" y="366" width="1" height="23" fill="#ef5350"/>
<rect x="701" y="377" width="3" height="9" fill="#ef5350"/>
<rect x="706" y="371" width="1" height="35" fill="#22ab94"/>
<rect x="705" y="384" width="3" height="2" fill="#22ab94"/>
<rect x="709" y="376" width="1" height="27" fill="#22ab94"/>
<rect x="708" y="379" width="3" height="5" fill="#22ab94"/>
<rect x="713" y="370" width="1" height="20" fill="#22ab94"/>
<rect x="712" y="379" width="3" height="1" fill="#22ab94"/>
<rect x="716" y="367" width="1" height="22" fill="#22ab94"/>
<rect x="715" y="376" width="3" height="3" fill="#22ab94"/>
<rect x="720" y="356" width="1" height="20" fill="#22ab94"/>
<rect x="719" y="360" width="3" height="16" fill="#22ab94"/>
<rect x="723" y="351" width="1" height="31" fill="#ef5350"/>
<rect x="722" y="360" width="3" height="19" fill="#ef5350"/>
<rect x="727" y="372" width="1" height="7" fill="#22ab94"/>
<rect x="726" y="379" width="3" height="1" fill="#22ab94"/>
<rect x="730" y="375" width="1" height="11" fill="#22ab94"/>
<rect x="729" y="376" width="3" height="3" fill="#22ab94"/>
<rect x="733" y="369" width="1" height="10" fill="#22ab94"/>
<rect x="732" y="374" width="3" height="2" fill="#22ab94"/>
<rect x="737" y="354" width="1" height="27" fill="#22ab94"/>
<rect x="736" y="361" width="3" height="13" fill="#22ab94"/>
<rect x="740" y="357" width="1" height="10" fill="#22ab94"/>
<rect x="739" y="358" width="3" height="3" fill="#22ab94"/>
<rect x="744" y="344" width="1" height="22" fill="#ef5350"/>
<rect x="743" y="358" width="3" height="7" fill="#ef5350"/>
<rect x="747" y="362" width="1" height="19" fill="#ef5350"/>
<rect x="746" y="365" width="3" height="14" fill="#ef5350"/>
<rect x="751" y="376" width="1" height="9" fill="#ef5350"/>
<rect x="750" y="379" width="3" height="1" fill="#ef5350"/>
<rect x="754" y="376" width="1" height="9" fill="#ef5350"/>
<rect x="753" y="379" width="3" height="2" fill="#ef5350"/>
<rect x="758" y="367" width="1" height="18" fill="#22ab94"/>
<rect x="757" y="369" width="3" height="12" fill="#22ab94"/>
<rect x="761" y="361" width="1" height="10" fill="#ef5350"/>
<rect x="760" y="369" width="3" height="1" fill="#ef5350"/>
<rect x="765" y="358" width="1" height="13" fill="#22ab94"/>
<rect x="764" y="368" width="3" height="2" fill="#22ab94"/>
<rect x="768" y="363" width="1" height="33" fill="#ef5350"/>
<rect x="767" y="368" width="3" height="25" fill="#ef5350"/>
<rect x="772" y="378" width="1" height="19" fill="#22ab94"/>
<rect x="771" y="385" width="3" height="8" fill="#22ab94"/>
<rect x="775" y="376" width="1" height="12" fill="#22ab94"/>
<rect x="774" y="379" width="3" height="6" fill="#22ab94"/>
<rect x="778" y="376" width="1" height="8" fill="#ef5350"/>
<rect x="777" y="379" width="3" height="2" fill="#ef5350"/>
<rect x="782" y="356" width="1" height="28" fill="#22ab94"/>
<rect x="781" y="358" width="3" height="23" fill="#22ab94"/>
<rect x="785" y="339" width="1" height="21" fill="#22ab94"/>
<rect x="784" y="340" width="3" height="18" fill="#22ab94"/>
<rect x="789" y="332" width="1" height="17" fill="#ef5350"/>
<rect x="788" y="340" width="3" height="6" fill="#ef5350"/>
<rect x="792" y="345" width="1" height="21" fill="#ef5350"/>
<rect x="791" y="346" width="3" height="18" fill="#ef5350"/>
<rect x="796" y="364" width="1" height="27" fill="#ef5350"/>
<rect x="795" y="364" width="3" height="8" fill="#ef5350"/>
<rect x="799" y="370" width="1" height="13" fill="#ef5350"/>
<rect x="798" y="372" width="3" height="7" fill="#ef5350"/>
<rect x="803" y="374" width="1" height="9" fill="#22ab94"/>
<rect x="802" y="377" width="3" height="2" fill="#22ab94"/>
<rect x="806" y="358" width="1" height="21" fill="#22ab94"/>
<rect x="805" y="377" width="3" height="1" fill="#22ab94"/>
<rect x="810" y="366" width="1" height="21" fill="#ef5350"/>
<rect x="809" y="377" width="3" height="4" fill="#ef5350"/>
<rect x="813" y="376" width="1" height="11" fill="#22ab94"/>
<rect x="812" y="379" width="3" height="2" fill="#22ab94"/>
<rect x="817" y="377" width="1" height="6" fill="#ef5350"/>
<rect x="816" y="379" width="3" height="1" fill="#ef5350"/>
<rect x="820" y="373" width="1" height="26" fill="#ef5350"/>
<rect x="819" y="380" width="3" height="15" fill="#ef5350"/>
<rect x="823" y="389" width="1" height="30" fill="#ef5350"/>
<rect x="822" y="395" width="3" height="15" fill="#ef5350"/>
<rect x="827" y="407" width="1" height="26" fill="#ef5350"/>
<rect x="826" y="410" width="3" height="9" fill="#ef5350"/>
<rect x="830" y="391" width="1" height="32" fill="#22ab94"/>
<rect x="829" y="394" width="3" height="25" fill="#22ab94"/>
<rect x="834" y="385" width="1" height="14" fill="#22ab94"/>
<rect x="833" y="389" width="3" height="5" fill="#22ab94"/>
<rect x="837" y="387" width="1" height="10" fill="#ef5350"/>
<rect x="836" y="389" width="3" height="5" fill="#ef5350"/>
<rect x="841" y="379" width="1" height="17" fill="#22ab94"/>
<rect x="840" y="393" width="3" height="1" fill="#22ab94"/>
<rect x="844" y="387" width="1" height="10" fill="#ef5350"/>
<rect x="843" y="393" width="3" height="1" fill="#ef5350"/>
<rect x="848" y="390" width="1" height="5" fill="#22ab94"/>
<rect x="847" y="391" width="3" height="2" fill="#22ab94"/>
<rect x="851" y="379" width="1" height="14" fill="#22ab94"/>
<rect x="850" y="383" width="3" height="8" fill="#22ab94"/>
<rect x="855" y="379" width="1" height="10" fill="#ef5350"/>
<rect x="854" y="383" width="3" height="2" fill="#ef5350"/>
<rect x="858" y="383" width="1" height="14" fill="#ef5350"/>
<rect x="857" y="385" width="3" height="10" fill="#ef5350"/>
<rect x="861" y="366" width="1" height="33" fill="#22ab94"/>
<rect x="860" y="373" width="3" height="22" fill="#22ab94"/>
<rect x="865" y="364" width="1" height="11" fill="#22ab94"/>
<rect x="864" y="370" width="3" height="3" fill="#22ab94"/>
<rect x="868" y="369" width="1" height="16" fill="#ef5350"/>
<rect x="867" y="370" width="3" height="11" fill="#ef5350"/>
<rect x="872" y="378" width="1" height="5" fill="#22ab94"/>
<rect x="871" y="381" width="3" height="1" fill="#22ab94"/>
<rect x="875" y="368" width="1" height="14" fill="#22ab94"/>
<rect x="874" y="373" width="3" height="8" fill="#22ab94"/>
<rect x="879" y="370" width="1" height="11" fill="#ef5350"/>
<rect x="878" y="373" width="3" height="4" fill="#ef5350"/>
<rect x="882" y="365" width="1" height="14" fill="#22ab94"/>
<rect x="881" y="367" width="3" height="10" fill="#22ab94"/>
<rect x="886" y="343" width="1" height="26" fill="#22ab94"/>
<rect x="885" y="346" width="3" height="21" fill="#22ab94"/>
<rect x="889" y="315" width="1" height="33" fill="#22ab94"/>
<rect x="888" y="322" width="3" height="24" fill="#22ab94"/>
<rect x="893" y="310" width="1" height="17" fill="#22ab94"/>
<rect x="892" y="321" width="3" height="1" fill="#22ab94"/>
<rect x="896" y="318" width="1" height="10" fill="#ef5350"/>
<rect x="895" y="321" width="3" height="2" fill="#ef5350"/>
<rect x="900" y="313" width="1" height="11" fill="#22ab94"/>
<rect x="899" y="323" width="3" height="1" fill="#22ab94"/>
<rect x="903" y="304" width="1" height="19" fill="#22ab94"/>
<rect x="902" y="314" width="3" height="9" fill="#22ab94"/>
<rect x="906" y="296" width="1" height="28" fill="#22ab94"/>
<rect x="905" y="297" width="3" height="17" fill="#22ab94"/>
<rect x="910" y="259" width="1" height="42" fill="#22ab94"/>
<rect x="909" y="266" width="3" height="31" fill="#22ab94"/>
<rect x="913" y="246" width="1" height="28" fill="#22ab94"/>
<rect x="912" y="252" width="3" height="14" fill="#22ab94"/>
<rect x="917" y="225" width="1" height="28" fill="#22ab94"/>
<rect x="916" y="243" width="3" height="9" fill="#22ab94"/>
<rect x="920" y="231" width="1" height="17" fill="#22ab94"/>
<rect x="919" y="237" width="3" height="6" fill="#22ab94"/>
<rect x="924" y="205" width="1" height="33" fill="#22ab94"/>
<rect x="923" y="215" width="3" height="22" fill="#22ab94"/>
<rect x="927" y="200" width="1" height="21" fill="#22ab94"/>
<rect x="926" y="214" width="3" height="1" fill="#22ab94"/>
<rect x="931" y="209" width="1" height="24" fill="#ef5350"/>
<rect x="930" y="214" width="3" height="7" fill="#ef5350"/>
<rect x="934" y="214" width="1" height="31" fill="#ef5350"/>
<rect x="933" y="221" width="3" height="12" fill="#ef5350"/>
<rect x="938" y="220" width="1" height="28" fill="#22ab94"/>
<rect x="937" y="222" width="3" height="11" fill="#22ab94"/>
<rect x="941" y="212" width="1" height="22" fill="#22ab94"/>
<rect x="940" y="216" width="3" height="6" fill="#22ab94"/>
<rect x="945" y="213" width="1" height="7" fill="#ef5350"/>
<rect x="944" y="216" width="3" height="3" fill="#ef5350"/>
<rect x="948" y="198" width="1" height="21" fill="#22ab94"/>
<rect x="947" y="199" width="3" height="20" fill="#22ab94"/>
<rect x="951" y="189" width="1" height="24" fill="#ef5350"/>
<rect x="950" y="199" width="3" height="10" fill="#ef5350"/>
<rect x="955" y="196" width="1" height="18" fill="#ef5350"/>
<rect x="954" y="209" width="3" height="1" fill="#ef5350"/>
<rect x="958" y="204" width="1" height="20" fill="#22ab94"/>
<rect x="957" y="207" width="3" height="3" fill="#22ab94"/>
<rect x="962" y="199" width="1" height="24" fill="#ef5350"/>
<rect x="961" y="207" width="3" height="15" fill="#ef5350"/>
<rect x="965" y="221" width="1" height="36" fill="#ef5350"/>
<rect x="964" y="222" width="3" height="29" fill="#ef5350"/>
<rect x="969" y="249" width="1" height="15" fill="#ef5350"/>
<rect x="968" y="251" width="3" height="12" fill="#ef5350"/>
<rect x="972" y="248" width="1" height="20" fill="#22ab94"/>
<rect x="971" y="249" width="3" height="14" fill="#22ab94"/>
<rect x="976" y="217" width="1" height="33" fill="#22ab94"/>
<rect x="975" y="220" width="3" height="29" fill="#22ab94"/>
<rect x="979" y="219" width="1" height="21" fill="#ef5350"/>
<rect x="978" y="220" width="3" height="14" fill="#ef5350"/>
<rect x="983" y="220" width="1" height="18" fill="#22ab94"/>
<rect x="982" y="225" width="3" height="9" fill="#22ab94"/>
<rect x="986" y="191" width="1" height="37" fill="#22ab94"/>
<rect x="985" y="194" width="3" height="31" fill="#22ab94"/>
<rect x="989" y="170" width="1" height="27" fill="#22ab94"/>
<rect x="988" y="181" width="3" height="13" fill="#22ab94"/>
<rect x="993" y="138" width="1" height="49" fill="#22ab94"/>
<rect x="992" y="148" width="3" height="33" fill="#22ab94"/>
<rect x="996" y="137" width="1" height="23" fill="#22ab94"/>
<rect x="995" y="148" width="3" height="1" fill="#22ab94"/>
<rect x="1000" y="133" width="1" height="25" fill="#ef5350"/>
<rect x="999" y="148" width="3" height="3" fill="#ef5350"/>
<rect x="1003" y="96" width="1" height="57" fill="#22ab94"/>
<rect x="1002" y="102" width="3" height="49" fill="#22ab94"/>
<rect x="1007" y="77" width="1" height="28" fill="#22ab94"/>
<rect x="1006" y="80" width="3" height="22" fill="#22ab94"/>
<rect x="1010" y="76" width="1" height="39" fill="#ef5350"/>
<rect x="1009" y="80" width="3" height="28" fill="#ef5350"/>
<rect x="1014" y="92" width="1" height="39" fill="#ef5350"/>
<rect x="1013" y="108" width="3" height="15" fill="#ef5350"/>
<rect x="1017" y="117" width="1" height="14" fill="#ef5350"/>
<rect x="1016" y="123" width="3" height="1" fill="#ef5350"/>
<rect x="1021" y="105" width="1" height="21" fill="#22ab94"/>
<rect x="1020" y="118" width="3" height="6" fill="#22ab94"/>
<rect x="1024" y="118" width="1" height="32" fill="#ef5350"/>
<rect x="1023" y="118" width="3" height="23" fill="#ef5350"/>
<rect x="1028" y="135" width="1" height="37" fill="#ef5350"/>
<rect x="1027" y="141" width="3" height="30" fill="#ef5350"/>
<rect x="1031" y="131" width="1" height="42" fill="#22ab94"/>
<rect x="1030" y="137" width="3" height="34" fill="#22ab94"/>
<rect x="1034" y="137" width="1" height="17" fill="#ef5350"/>
<rect x="1033" y="137" width="3" height="14" fill="#ef5350"/>
<rect x="1038" y="63" width="1" height="94" fill="#22ab94"/>
<rect x="1037" y="71" width="3" height="80" fill="#22ab94"/>
<rect x="1041" y="70" width="1" height="23" fill="#ef5350"/>
<rect x="1040" y="71" width="3" height="6" fill="#ef5350"/>
<rect x="1045" y="54" width="1" height="32" fill="#22ab94"/>
<rect x="1044" y="77" width="3" height="1" fill="#22ab94"/>
<rect x="1048" y="75" width="1" height="61" fill="#ef5350"/>
<rect x="1047" y="77" width="3" height="54" fill="#ef5350"/>
<rect x="1052" y="98" width="1" height="41" fill="#22ab94"/>
<rect x="1051" y="102" width="3" height="29" fill="#22ab94"/>
<rect x="1055" y="93" width="1" height="22" fill="#ef5350"/>
<rect x="1054" y="102" width="3" height="12" fill="#ef5350"/>
<rect x="1059" y="98" width="1" height="23" fill="#22ab94"/>
<rect x="1058" y="114" width="3" height="1" fill="#22ab94"/>
<rect x="1062" y="112" width="1" height="34" fill="#ef5350"/>
<rect x="1061" y="114" width="3" height="20" fill="#ef5350"/>
<rect x="1066" y="116" width="1" height="23" fill="#22ab94"/>
<rect x="1065" y="132" width="3" height="2" fill="#22ab94"/>
<rect x="1069" y="115" width="1" height="19" fill="#22ab94"/>
<rect x="1068" y="130" width="3" height="2" fill="#22ab94"/>
<rect x="1073" y="117" width="1" height="35" fill="#ef5350"/>
<rect x="1072" y="130" width="3" height="10" fill="#ef5350"/>
<rect x="1076" y="130" width="1" height="15" fill="#22ab94"/>
<rect x="1075" y="138" width="3" height="2" fill="#22ab94"/>
<rect x="1079" y="117" width="1" height="22" fill="#22ab94"/>
<rect x="1078" y="122" width="3" height="16" fill="#22ab94"/>
<rect x="1083" y="117" width="1" height="26" fill="#ef5350"/>
<rect x="1082" y="122" width="3" height="20" fill="#ef5350"/>
<rect x="1086" y="116" width="1" height="30" fill="#22ab94"/>
<rect x="1085" y="142" width="3" height="1" fill="#22ab94"/>
<rect x="1090" y="138" width="1" height="11" fill="#ef5350"/>
<rect x="1089" y="142" width="3" height="3" fill="#ef5350"/>
<rect x="1093" y="137" width="1" height="8" fill="#22ab94"/>
<rect x="1092" y="140" width="3" height="5" fill="#22ab94"/>
<rect x="1097" y="130" width="1" height="12" fill="#ef5350"/>
<rect x="1096" y="140" width="3" height="2" fill="#ef5350"/>
<rect x="1100" y="131" width="1" height="14" fill="#22ab94"/>
<rect x="1099" y="140" width="3" height="2" fill="#22ab94"/>
<rect x="1104" y="121" width="1" height="21" fill="#22ab94"/>
<rect x="1103" y="135" width="3" height="5" fill="#22ab94"/>
<rect x="1107" y="117" width="1" height="18" fill="#22ab94"/>
<rect x="1106" y="120" width="3" height="15" fill="#22ab94"/>
<rect x="1111" y="81" width="1" height="40" fill="#22ab94"/>
<rect x="1110" y="86" width="3" height="34" fill="#22ab94"/>
<rect x="1114" y="79" width="1" height="22" fill="#ef5350"/>
<rect x="1113" y="86" width="3" height="6" fill="#ef5350"/>
<rect x="1117" y="89" width="1" height="15" fill="#ef5350"/>
<rect x="1116" y="92" width="3" height="10" fill="#ef5350"/>
<rect x="1121" y="92" width="1" height="26" fill="#ef5350"/>
<rect x="1120" y="102" width="3" height="10" fill="#ef5350"/>
<rect x="1124" y="110" width="1" height="14" fill="#ef5350"/>
<rect x="1123" y="112" width="3" height="3" fill="#ef5350"/>
<rect x="1128" y="99" width="1" height="27" fill="#22ab94"/>
<rect x="1127" y="103" width="3" height="12" fill="#22ab94"/>
<rect x="1131" y="95" width="1" height="13" fill="#22ab94"/>
<rect x="1130" y="103" width="3" height="1" fill="#22ab94"/>
<rect x="1135" y="99" width="1" height="24" fill="#ef5350"/>
<rect x="1134" y="103" width="3" height="16" fill="#ef5350"/>
<rect x="1138" y="114" width="1" height="7" fill="#22ab94"/>
<rect x="1137" y="118" width="3" height="1" fill="#22ab94"/>
<rect x="1142" y="115" width="1" height="8" fill="#ef5350"/>
<rect x="1141" y="118" width="3" height="4" fill="#ef5350"/>
<rect x="1145" y="121" width="1" height="49" fill="#ef5350"/>
<rect x="1144" y="122" width="3" height="33" fill="#ef5350"/>
<rect x="1149" y="151" width="1" height="17" fill="#ef5350"/>
<rect x="1148" y="155" width="3" height="5" fill="#ef5350"/>
<rect x="1152" y="154" width="1" height="18" fill="#ef5350"/>
<rect x="1151" y="160" width="3" height="2" fill="#ef5350"/>
<rect x="1156" y="161" width="1" height="45" fill="#ef5350"/>
<rect x="1155" y="162" width="3" height="37" fill="#ef5350"/>
<rect x="1159" y="173" width="1" height="26" fill="#22ab94"/>
<rect x="1158" y="178" width="3" height="21" fill="#22ab94"/>
<rect x="1162" y="176" width="1" height="9" fill="#ef5350"/>
<rect x="1161" y="178" width="3" height="3" fill="#ef5350"/>
<rect x="1166" y="162" width="1" height="23" fill="#22ab94"/>
<rect x="1165" y="163" width="3" height="18" fill="#22ab94"/>
<rect x="1169" y="151" width="1" height="19" fill="#22ab94"/>
<rect x="1168" y="153" width="3" height="10" fill="#22ab94"/>
<rect x="1173" y="149" width="1" height="19" fill="#ef5350"/>
<rect x="1172" y="153" width="3" height="9" fill="#ef5350"/>
<rect x="1176" y="134" width="1" height="29" fill="#22ab94"/>
<rect x="1175" y="135" width="3" height="27" fill="#22ab94"/>
<rect x="1180" y="112" width="1" height="24" fill="#22ab94"/>
<rect x="1179" y="117" width="3" height="18" fill="#22ab94"/>
<rect x="1183" y="102" width="1" height="21" fill="#22ab94"/>
<rect x="1182" y="113" width="3" height="4" fill="#22ab94"/>
<rect x="1187" y="112" width="1" height="10" fill="#ef5350"/>
<rect x="1186" y="113" width="3" height="5" fill="#ef5350"/>
<rect x="1190" y="100" width="1" height="18" fill="#22ab94"/>
<rect x="1189" y="113" width="3" height="5" fill="#22ab94"/>
<rect x="1194" y="84" width="1" height="32" fill="#22ab94"/>
<rect x="1193" y="90" width="3" height="23" fill="#22ab94"/>
<rect x="1197" y="81" width="1" height="43" fill="#ef5350"/>
<rect x="1196" y="90" width="3" height="30" fill="#ef5350"/>
<rect x="1201" y="112" width="1" height="15" fill="#ef5350"/>
<rect x="1200" y="120" width="3" height="1" fill="#ef5350"/>
</g><g clip-path="url(#mp)">
<line x1="983" x2="1285" y1="173.8" y2="173.8" stroke="#0000ff" stroke-width="3" stroke-dasharray="15 18"/>
<line x1="194" x2="1285" y1="216.0" y2="216.0" stroke="#0000ff" stroke-width="3" stroke-dasharray="15 18"/>
<line x1="10" x2="1285" y1="120.5" y2="120.5" stroke="#22ab94" stroke-width="1" stroke-dasharray="1 2"/>
<path d="M1068,29.5 H1153 Q1161,29.5 1161,37.5 V54.5 Q1161,62.5 1153,62.5 H1119 L1121.5,78 L1102.5,62.5 H1068 Q1060,62.5 1060,54.5 V37.5 Q1060,29.5 1068,29.5 Z" fill="#fff" stroke="#9b2a2a" stroke-width="1.5"/>
<text x="1071.4" y="49.2" font-size="12.5" fill="#9a1c1c" stroke="#9a1c1c" stroke-width="0.2" textLength="79" lengthAdjust="spacingAndGlyphs">Resistance line</text>
<line x1="1033.7" y1="50.5" x2="1225.3" y2="114.7" stroke="#1c3a78" stroke-width="3" stroke-linecap="round"/>
</g>
<g clip-path="url(#rp)">
<defs><linearGradient id="gob" gradientUnits="userSpaceOnUse" x1="0" y1="537.8" x2="0" y2="613.7"><stop offset="0" stop-color="#4caf50" stop-opacity="1"/><stop offset="1" stop-color="#4caf50" stop-opacity="0"/></linearGradient>
<linearGradient id="gos" gradientUnits="userSpaceOnUse" x1="0" y1="714.9" x2="0" y2="790.8"><stop offset="0" stop-color="#f23645" stop-opacity="0"/><stop offset="1" stop-color="#f23645" stop-opacity="1"/></linearGradient>
<clipPath id="cob"><rect x="10" y="560" width="1275" height="53.7"/></clipPath><clipPath id="cos"><rect x="10" y="714.9" width="1275" height="23.1"/></clipPath></defs>
<polygon points="4.0,613.7 4.0,669.2 7.5,656.3 10.9,646.5 14.4,643.3 17.8,670.1 21.3,671.1 24.8,674.8 28.2,680.4 31.7,689.8 35.1,684.8 38.6,636.8 42.1,620.0 45.5,614.8 49.0,603.3 52.4,600.0 55.9,590.2 59.4,610.4 62.8,619.3 66.3,636.5 69.7,633.2 73.2,630.7 76.7,638.6 80.1,627.0 83.6,641.4 87.0,646.0 90.5,623.1 94.0,627.0 97.4,622.2 100.9,626.8 104.3,622.6 107.8,635.5 111.2,612.8 114.7,623.0 118.2,622.0 121.6,614.8 125.1,614.8 128.5,624.2 132.0,628.5 135.5,611.4 138.9,621.7 142.4,609.1 145.8,609.8 149.3,609.5 152.8,645.9 156.2,654.5 159.7,638.6 163.1,635.5 166.6,633.4 170.1,637.5 173.5,631.1 177.0,628.1 180.4,643.2 183.9,669.0 187.4,685.1 190.8,678.3 194.3,689.4 197.7,693.8 201.2,678.7 204.7,672.2 208.1,673.5 211.6,685.1 215.0,685.1 218.5,677.4 222.0,681.8 225.4,681.2 228.9,683.6 232.3,679.6 235.8,668.0 239.3,649.9 242.7,646.0 246.2,649.3 249.6,643.1 253.1,678.2 256.6,682.7 260.0,692.0 263.5,686.3 266.9,684.4 270.4,685.9 273.9,697.8 277.3,685.3 280.8,660.2 284.2,673.4 287.7,657.9 291.1,672.5 294.6,680.2 298.1,673.7 301.5,669.1 305.0,677.3 308.4,666.5 311.9,669.4 315.4,668.3 318.8,672.0 322.3,683.0 325.7,692.0 329.2,686.7 332.7,670.0 336.1,664.4 339.6,681.9 343.0,701.7 346.5,700.5 350.0,709.6 353.4,703.2 356.9,709.7 360.3,713.7 363.8,712.3 367.3,711.5 370.7,707.5 374.2,712.2 377.6,690.6 381.1,696.5 384.6,689.2 388.0,692.6 391.5,695.5 394.9,683.0 398.4,690.5 401.9,682.8 405.3,679.6 408.8,688.5 412.2,665.8 415.7,666.5 419.2,698.9 422.6,699.7 426.1,711.7 429.5,713.1 433.0,718.3 436.5,719.6 439.9,677.1 443.4,703.7 446.8,701.5 450.3,693.6 453.8,696.0 457.2,700.6 460.7,690.3 464.1,704.5 467.6,713.7 471.0,706.4 474.5,707.1 478.0,709.9 481.4,703.8 484.9,700.3 488.3,703.8 491.8,698.6 495.3,697.8 498.7,679.4 502.2,686.6 505.6,688.7 509.1,685.6 512.6,670.8 516.0,671.4 519.5,672.8 522.9,680.9 526.4,682.2 529.9,695.4 533.3,703.0 536.8,705.1 540.2,701.9 543.7,684.8 547.2,698.3 550.6,694.4 554.1,694.4 557.5,695.7 561.0,719.6 564.5,721.7 567.9,728.0 571.4,691.2 574.8,705.0 578.3,697.8 581.8,685.7 585.2,690.8 588.7,686.2 592.1,690.0 595.6,691.7 599.1,689.9 602.5,688.9 606.0,683.9 609.4,688.3 612.9,689.0 616.4,656.5 619.8,650.5 623.3,655.1 626.7,652.7 630.2,651.8 633.6,651.8 637.1,649.9 640.6,649.9 644.0,651.3 647.5,641.6 650.9,641.6 654.4,643.2 657.9,651.4 661.3,650.0 664.8,650.0 668.2,651.9 671.7,590.9 675.2,581.9 678.6,571.4 682.1,586.7 685.5,590.9 689.0,581.8 692.5,595.5 695.9,607.6 699.4,608.5 702.8,620.6 706.3,619.3 709.8,616.1 713.2,616.1 716.7,613.6 720.1,603.4 723.6,631.6 727.1,631.0 730.5,628.8 734.0,627.0 737.4,616.7 740.9,614.7 744.4,626.0 747.8,646.1 751.3,647.0 754.7,650.0 758.2,636.2 761.7,638.3 765.1,636.1 768.6,671.5 772.0,661.9 775.5,655.0 779.0,657.6 782.4,634.7 785.9,620.6 789.3,629.6 792.8,650.4 796.3,658.9 799.7,666.3 803.2,663.5 806.6,663.5 810.1,668.8 813.5,666.4 817.0,667.2 820.5,684.9 823.9,698.5 827.4,706.0 830.8,673.8 834.3,668.8 837.8,673.4 841.2,671.9 844.7,672.6 848.1,670.0 851.6,658.9 855.1,661.6 858.5,675.1 862.0,649.2 865.4,645.9 868.9,660.2 872.4,659.4 875.8,651.1 879.3,656.5 882.7,645.3 886.2,626.7 889.7,610.8 893.1,610.1 896.6,613.1 900.0,613.1 903.5,607.2 907.0,597.3 910.4,584.5 913.9,580.1 917.3,577.4 920.8,575.7 924.3,570.2 927.7,570.1 931.2,581.6 934.6,598.4 938.1,593.9 941.6,591.4 945.0,596.5 948.5,588.2 951.9,601.6 955.4,603.5 958.9,602.1 962.3,623.2 965.8,655.7 969.2,665.8 972.7,654.2 976.1,634.9 979.6,647.4 983.1,641.4 986.5,624.7 990.0,618.6 993.4,605.9 996.9,605.9 1000.4,609.3 1003.8,593.2 1007.3,587.9 1010.7,611.9 1014.2,623.1 1017.7,624.1 1021.1,621.6 1024.6,639.3 1028.0,658.9 1031.5,642.4 1035.0,650.8 1038.4,621.5 1041.9,625.3 1045.3,625.3 1048.8,654.2 1052.3,643.3 1055.7,649.1 1059.2,649.1 1062.6,659.2 1066.1,658.6 1069.6,657.3 1073.0,663.3 1076.5,661.8 1079.9,652.9 1083.4,665.0 1086.9,665.0 1090.3,667.1 1093.8,663.9 1097.2,664.9 1100.7,663.9 1104.2,659.7 1107.6,648.8 1111.1,628.5 1114.5,633.9 1118.0,642.3 1121.5,651.4 1124.9,653.7 1128.4,645.2 1131.8,645.2 1135.3,660.0 1138.8,658.9 1142.2,662.6 1145.7,688.6 1149.1,691.7 1152.6,693.0 1156.0,713.6 1159.5,693.7 1163.0,695.2 1166.4,679.8 1169.9,671.6 1173.3,678.1 1176.8,657.5 1180.3,646.3 1183.7,643.9 1187.2,647.8 1190.6,644.7 1194.1,630.6 1197.6,655.8 1201.0,656.0 1201.0,613.7" fill="url(#gob)" clip-path="url(#cob)"/>
<polygon points="4.0,714.9 4.0,669.2 7.5,656.3 10.9,646.5 14.4,643.3 17.8,670.1 21.3,671.1 24.8,674.8 28.2,680.4 31.7,689.8 35.1,684.8 38.6,636.8 42.1,620.0 45.5,614.8 49.0,603.3 52.4,600.0 55.9,590.2 59.4,610.4 62.8,619.3 66.3,636.5 69.7,633.2 73.2,630.7 76.7,638.6 80.1,627.0 83.6,641.4 87.0,646.0 90.5,623.1 94.0,627.0 97.4,622.2 100.9,626.8 104.3,622.6 107.8,635.5 111.2,612.8 114.7,623.0 118.2,622.0 121.6,614.8 125.1,614.8 128.5,624.2 132.0,628.5 135.5,611.4 138.9,621.7 142.4,609.1 145.8,609.8 149.3,609.5 152.8,645.9 156.2,654.5 159.7,638.6 163.1,635.5 166.6,633.4 170.1,637.5 173.5,631.1 177.0,628.1 180.4,643.2 183.9,669.0 187.4,685.1 190.8,678.3 194.3,689.4 197.7,693.8 201.2,678.7 204.7,672.2 208.1,673.5 211.6,685.1 215.0,685.1 218.5,677.4 222.0,681.8 225.4,681.2 228.9,683.6 232.3,679.6 235.8,668.0 239.3,649.9 242.7,646.0 246.2,649.3 249.6,643.1 253.1,678.2 256.6,682.7 260.0,692.0 263.5,686.3 266.9,684.4 270.4,685.9 273.9,697.8 277.3,685.3 280.8,660.2 284.2,673.4 287.7,657.9 291.1,672.5 294.6,680.2 298.1,673.7 301.5,669.1 305.0,677.3 308.4,666.5 311.9,669.4 315.4,668.3 318.8,672.0 322.3,683.0 325.7,692.0 329.2,686.7 332.7,670.0 336.1,664.4 339.6,681.9 343.0,701.7 346.5,700.5 350.0,709.6 353.4,703.2 356.9,709.7 360.3,713.7 363.8,712.3 367.3,711.5 370.7,707.5 374.2,712.2 377.6,690.6 381.1,696.5 384.6,689.2 388.0,692.6 391.5,695.5 394.9,683.0 398.4,690.5 401.9,682.8 405.3,679.6 408.8,688.5 412.2,665.8 415.7,666.5 419.2,698.9 422.6,699.7 426.1,711.7 429.5,713.1 433.0,718.3 436.5,719.6 439.9,677.1 443.4,703.7 446.8,701.5 450.3,693.6 453.8,696.0 457.2,700.6 460.7,690.3 464.1,704.5 467.6,713.7 471.0,706.4 474.5,707.1 478.0,709.9 481.4,703.8 484.9,700.3 488.3,703.8 491.8,698.6 495.3,697.8 498.7,679.4 502.2,686.6 505.6,688.7 509.1,685.6 512.6,670.8 516.0,671.4 519.5,672.8 522.9,680.9 526.4,682.2 529.9,695.4 533.3,703.0 536.8,705.1 540.2,701.9 543.7,684.8 547.2,698.3 550.6,694.4 554.1,694.4 557.5,695.7 561.0,719.6 564.5,721.7 567.9,728.0 571.4,691.2 574.8,705.0 578.3,697.8 581.8,685.7 585.2,690.8 588.7,686.2 592.1,690.0 595.6,691.7 599.1,689.9 602.5,688.9 606.0,683.9 609.4,688.3 612.9,689.0 616.4,656.5 619.8,650.5 623.3,655.1 626.7,652.7 630.2,651.8 633.6,651.8 637.1,649.9 640.6,649.9 644.0,651.3 647.5,641.6 650.9,641.6 654.4,643.2 657.9,651.4 661.3,650.0 664.8,650.0 668.2,651.9 671.7,590.9 675.2,581.9 678.6,571.4 682.1,586.7 685.5,590.9 689.0,581.8 692.5,595.5 695.9,607.6 699.4,608.5 702.8,620.6 706.3,619.3 709.8,616.1 713.2,616.1 716.7,613.6 720.1,603.4 723.6,631.6 727.1,631.0 730.5,628.8 734.0,627.0 737.4,616.7 740.9,614.7 744.4,626.0 747.8,646.1 751.3,647.0 754.7,650.0 758.2,636.2 761.7,638.3 765.1,636.1 768.6,671.5 772.0,661.9 775.5,655.0 779.0,657.6 782.4,634.7 785.9,620.6 789.3,629.6 792.8,650.4 796.3,658.9 799.7,666.3 803.2,663.5 806.6,663.5 810.1,668.8 813.5,666.4 817.0,667.2 820.5,684.9 823.9,698.5 827.4,706.0 830.8,673.8 834.3,668.8 837.8,673.4 841.2,671.9 844.7,672.6 848.1,670.0 851.6,658.9 855.1,661.6 858.5,675.1 862.0,649.2 865.4,645.9 868.9,660.2 872.4,659.4 875.8,651.1 879.3,656.5 882.7,645.3 886.2,626.7 889.7,610.8 893.1,610.1 896.6,613.1 900.0,613.1 903.5,607.2 907.0,597.3 910.4,584.5 913.9,580.1 917.3,577.4 920.8,575.7 924.3,570.2 927.7,570.1 931.2,581.6 934.6,598.4 938.1,593.9 941.6,591.4 945.0,596.5 948.5,588.2 951.9,601.6 955.4,603.5 958.9,602.1 962.3,623.2 965.8,655.7 969.2,665.8 972.7,654.2 976.1,634.9 979.6,647.4 983.1,641.4 986.5,624.7 990.0,618.6 993.4,605.9 996.9,605.9 1000.4,609.3 1003.8,593.2 1007.3,587.9 1010.7,611.9 1014.2,623.1 1017.7,624.1 1021.1,621.6 1024.6,639.3 1028.0,658.9 1031.5,642.4 1035.0,650.8 1038.4,621.5 1041.9,625.3 1045.3,625.3 1048.8,654.2 1052.3,643.3 1055.7,649.1 1059.2,649.1 1062.6,659.2 1066.1,658.6 1069.6,657.3 1073.0,663.3 1076.5,661.8 1079.9,652.9 1083.4,665.0 1086.9,665.0 1090.3,667.1 1093.8,663.9 1097.2,664.9 1100.7,663.9 1104.2,659.7 1107.6,648.8 1111.1,628.5 1114.5,633.9 1118.0,642.3 1121.5,651.4 1124.9,653.7 1128.4,645.2 1131.8,645.2 1135.3,660.0 1138.8,658.9 1142.2,662.6 1145.7,688.6 1149.1,691.7 1152.6,693.0 1156.0,713.6 1159.5,693.7 1163.0,695.2 1166.4,679.8 1169.9,671.6 1173.3,678.1 1176.8,657.5 1180.3,646.3 1183.7,643.9 1187.2,647.8 1190.6,644.7 1194.1,630.6 1197.6,655.8 1201.0,656.0 1201.0,714.9" fill="url(#gos)" clip-path="url(#cos)"/>
<polyline points="4.0,669.2 7.5,656.3 10.9,646.5 14.4,643.3 17.8,670.1 21.3,671.1 24.8,674.8 28.2,680.4 31.7,689.8 35.1,684.8 38.6,636.8 42.1,620.0 45.5,614.8 49.0,603.3 52.4,600.0 55.9,590.2 59.4,610.4 62.8,619.3 66.3,636.5 69.7,633.2 73.2,630.7 76.7,638.6 80.1,627.0 83.6,641.4 87.0,646.0 90.5,623.1 94.0,627.0 97.4,622.2 100.9,626.8 104.3,622.6 107.8,635.5 111.2,612.8 114.7,623.0 118.2,622.0 121.6,614.8 125.1,614.8 128.5,624.2 132.0,628.5 135.5,611.4 138.9,621.7 142.4,609.1 145.8,609.8 149.3,609.5 152.8,645.9 156.2,654.5 159.7,638.6 163.1,635.5 166.6,633.4 170.1,637.5 173.5,631.1 177.0,628.1 180.4,643.2 183.9,669.0 187.4,685.1 190.8,678.3 194.3,689.4 197.7,693.8 201.2,678.7 204.7,672.2 208.1,673.5 211.6,685.1 215.0,685.1 218.5,677.4 222.0,681.8 225.4,681.2 228.9,683.6 232.3,679.6 235.8,668.0 239.3,649.9 242.7,646.0 246.2,649.3 249.6,643.1 253.1,678.2 256.6,682.7 260.0,692.0 263.5,686.3 266.9,684.4 270.4,685.9 273.9,697.8 277.3,685.3 280.8,660.2 284.2,673.4 287.7,657.9 291.1,672.5 294.6,680.2 298.1,673.7 301.5,669.1 305.0,677.3 308.4,666.5 311.9,669.4 315.4,668.3 318.8,672.0 322.3,683.0 325.7,692.0 329.2,686.7 332.7,670.0 336.1,664.4 339.6,681.9 343.0,701.7 346.5,700.5 350.0,709.6 353.4,703.2 356.9,709.7 360.3,713.7 363.8,712.3 367.3,711.5 370.7,707.5 374.2,712.2 377.6,690.6 381.1,696.5 384.6,689.2 388.0,692.6 391.5,695.5 394.9,683.0 398.4,690.5 401.9,682.8 405.3,679.6 408.8,688.5 412.2,665.8 415.7,666.5 419.2,698.9 422.6,699.7 426.1,711.7 429.5,713.1 433.0,718.3 436.5,719.6 439.9,677.1 443.4,703.7 446.8,701.5 450.3,693.6 453.8,696.0 457.2,700.6 460.7,690.3 464.1,704.5 467.6,713.7 471.0,706.4 474.5,707.1 478.0,709.9 481.4,703.8 484.9,700.3 488.3,703.8 491.8,698.6 495.3,697.8 498.7,679.4 502.2,686.6 505.6,688.7 509.1,685.6 512.6,670.8 516.0,671.4 519.5,672.8 522.9,680.9 526.4,682.2 529.9,695.4 533.3,703.0 536.8,705.1 540.2,701.9 543.7,684.8 547.2,698.3 550.6,694.4 554.1,694.4 557.5,695.7 561.0,719.6 564.5,721.7 567.9,728.0 571.4,691.2 574.8,705.0 578.3,697.8 581.8,685.7 585.2,690.8 588.7,686.2 592.1,690.0 595.6,691.7 599.1,689.9 602.5,688.9 606.0,683.9 609.4,688.3 612.9,689.0 616.4,656.5 619.8,650.5 623.3,655.1 626.7,652.7 630.2,651.8 633.6,651.8 637.1,649.9 640.6,649.9 644.0,651.3 647.5,641.6 650.9,641.6 654.4,643.2 657.9,651.4 661.3,650.0 664.8,650.0 668.2,651.9 671.7,590.9 675.2,581.9 678.6,571.4 682.1,586.7 685.5,590.9 689.0,581.8 692.5,595.5 695.9,607.6 699.4,608.5 702.8,620.6 706.3,619.3 709.8,616.1 713.2,616.1 716.7,613.6 720.1,603.4 723.6,631.6 727.1,631.0 730.5,628.8 734.0,627.0 737.4,616.7 740.9,614.7 744.4,626.0 747.8,646.1 751.3,647.0 754.7,650.0 758.2,636.2 761.7,638.3 765.1,636.1 768.6,671.5 772.0,661.9 775.5,655.0 779.0,657.6 782.4,634.7 785.9,620.6 789.3,629.6 792.8,650.4 796.3,658.9 799.7,666.3 803.2,663.5 806.6,663.5 810.1,668.8 813.5,666.4 817.0,667.2 820.5,684.9 823.9,698.5 827.4,706.0 830.8,673.8 834.3,668.8 837.8,673.4 841.2,671.9 844.7,672.6 848.1,670.0 851.6,658.9 855.1,661.6 858.5,675.1 862.0,649.2 865.4,645.9 868.9,660.2 872.4,659.4 875.8,651.1 879.3,656.5 882.7,645.3 886.2,626.7 889.7,610.8 893.1,610.1 896.6,613.1 900.0,613.1 903.5,607.2 907.0,597.3 910.4,584.5 913.9,580.1 917.3,577.4 920.8,575.7 924.3,570.2 927.7,570.1 931.2,581.6 934.6,598.4 938.1,593.9 941.6,591.4 945.0,596.5 948.5,588.2 951.9,601.6 955.4,603.5 958.9,602.1 962.3,623.2 965.8,655.7 969.2,665.8 972.7,654.2 976.1,634.9 979.6,647.4 983.1,641.4 986.5,624.7 990.0,618.6 993.4,605.9 996.9,605.9 1000.4,609.3 1003.8,593.2 1007.3,587.9 1010.7,611.9 1014.2,623.1 1017.7,624.1 1021.1,621.6 1024.6,639.3 1028.0,658.9 1031.5,642.4 1035.0,650.8 1038.4,621.5 1041.9,625.3 1045.3,625.3 1048.8,654.2 1052.3,643.3 1055.7,649.1 1059.2,649.1 1062.6,659.2 1066.1,658.6 1069.6,657.3 1073.0,663.3 1076.5,661.8 1079.9,652.9 1083.4,665.0 1086.9,665.0 1090.3,667.1 1093.8,663.9 1097.2,664.9 1100.7,663.9 1104.2,659.7 1107.6,648.8 1111.1,628.5 1114.5,633.9 1118.0,642.3 1121.5,651.4 1124.9,653.7 1128.4,645.2 1131.8,645.2 1135.3,660.0 1138.8,658.9 1142.2,662.6 1145.7,688.6 1149.1,691.7 1152.6,693.0 1156.0,713.6 1159.5,693.7 1163.0,695.2 1166.4,679.8 1169.9,671.6 1173.3,678.1 1176.8,657.5 1180.3,646.3 1183.7,643.9 1187.2,647.8 1190.6,644.7 1194.1,630.6 1197.6,655.8 1201.0,656.0" fill="none" stroke="#7e57c2" stroke-width="3" stroke-linejoin="round"/>
<polyline points="4.0,650.6 7.5,652.1 10.9,652.4 14.4,652.5 17.8,654.5 21.3,657.0 24.8,659.8 28.2,664.1 31.7,667.6 35.1,670.1 38.6,667.8 42.1,664.4 45.5,659.5 49.0,654.4 52.4,649.4 55.9,644.7 59.4,642.1 62.8,640.4 66.3,638.0 69.7,635.3 73.2,632.2 76.7,629.2 80.1,624.7 83.6,621.6 87.0,622.2 90.5,622.5 94.0,623.3 97.4,624.7 100.9,626.6 104.3,628.9 107.8,630.7 111.2,630.2 114.7,629.3 118.2,628.5 121.6,627.3 125.1,625.6 128.5,625.4 132.0,624.5 135.5,622.0 138.9,622.0 142.4,620.7 145.8,619.8 149.3,618.5 152.8,620.2 156.2,621.6 159.7,623.4 163.1,624.3 166.6,625.1 170.1,626.7 173.5,627.9 177.0,628.2 180.4,629.2 183.9,633.3 187.4,637.9 190.8,642.8 194.3,648.5 197.7,654.5 201.2,656.9 204.7,658.1 208.1,660.6 211.6,664.2 215.0,667.9 218.5,670.7 222.0,674.3 225.4,678.1 228.9,681.0 232.3,681.8 235.8,680.5 239.3,678.5 242.7,675.4 246.2,672.2 249.6,669.7 253.1,670.1 256.6,670.8 260.0,671.3 263.5,671.3 266.9,671.9 270.4,672.1 273.9,673.3 277.3,673.5 280.8,672.1 284.2,672.5 287.7,673.0 291.1,674.9 294.6,677.1 298.1,679.3 301.5,678.7 305.0,678.3 308.4,676.5 311.9,675.2 315.4,674.1 318.8,673.1 322.3,672.0 325.7,672.5 329.2,674.4 332.7,674.2 336.1,674.6 339.6,675.3 343.0,676.8 346.5,678.8 350.0,681.6 353.4,683.5 356.9,686.6 360.3,689.8 363.8,692.9 367.3,695.7 370.7,697.5 374.2,698.9 377.6,699.2 381.1,701.1 384.6,702.9 388.0,703.6 391.5,703.2 394.9,701.9 398.4,700.6 401.9,699.1 405.3,697.0 408.8,695.2 412.2,691.8 415.7,688.6 419.2,688.0 422.6,687.1 426.1,688.6 429.5,689.8 433.0,691.9 436.5,693.8 439.9,692.5 443.4,694.0 446.8,694.8 450.3,695.5 453.8,696.7 457.2,697.6 460.7,699.3 464.1,702.0 467.6,703.1 471.0,703.6 474.5,703.2 478.0,703.0 481.4,702.0 484.9,700.6 488.3,702.5 491.8,702.1 495.3,701.9 498.7,700.9 502.2,700.2 505.6,699.4 509.1,699.0 512.6,696.6 516.0,693.6 519.5,691.2 522.9,689.3 526.4,687.3 529.9,686.7 533.3,686.9 536.8,687.0 540.2,687.2 543.7,686.3 547.2,687.7 550.6,688.2 554.1,688.6 557.5,689.4 561.0,692.8 564.5,696.4 567.9,700.4 571.4,701.1 574.8,702.7 578.3,702.9 581.8,701.7 585.2,700.7 588.7,699.5 592.1,699.9 595.6,699.4 599.1,699.1 602.5,698.7 606.0,697.9 609.4,695.6 612.9,693.3 616.4,688.2 619.8,685.3 623.3,681.7 626.7,678.5 630.2,676.1 633.6,673.3 637.1,670.7 640.6,667.9 644.0,665.0 647.5,661.5 650.9,658.1 654.4,655.2 657.9,652.6 661.3,649.8 664.8,649.4 668.2,649.5 671.7,644.9 675.2,639.8 678.6,634.1 682.1,629.4 685.5,625.2 689.0,620.3 692.5,616.3 695.9,613.9 699.4,611.5 702.8,609.9 706.3,607.6 709.8,605.2 713.2,602.8 716.7,600.1 720.1,600.9 723.6,604.5 727.1,608.8 730.5,611.8 734.0,614.3 737.4,616.8 740.9,618.2 744.4,619.5 747.8,622.2 751.3,624.1 754.7,626.3 758.2,627.7 761.7,629.3 765.1,630.9 768.6,635.8 772.0,637.9 775.5,639.7 779.0,641.7 782.4,642.3 785.9,642.6 789.3,643.6 792.8,645.4 796.3,646.3 799.7,647.7 803.2,648.6 806.6,650.6 810.1,652.8 813.5,654.9 817.0,654.6 820.5,656.3 823.9,659.4 827.4,662.8 830.8,665.6 834.3,669.0 837.8,672.2 841.2,673.7 844.7,674.7 848.1,675.0 851.6,674.6 855.1,674.5 858.5,674.9 862.0,673.7 865.4,672.2 868.9,670.4 872.4,667.6 875.8,663.7 879.3,662.5 882.7,660.8 886.2,657.5 889.7,653.1 893.1,648.6 896.6,644.6 900.0,641.3 903.5,637.4 907.0,631.9 910.4,627.2 913.9,622.5 917.3,616.6 920.8,610.6 924.3,604.9 927.7,598.7 931.2,594.1 934.6,592.1 938.1,590.9 941.6,589.6 945.0,588.4 948.5,586.6 951.9,586.2 955.4,586.7 958.9,587.9 962.3,591.0 965.8,596.6 969.2,603.0 972.7,609.0 976.1,613.7 979.6,618.4 983.1,621.4 986.5,623.6 990.0,625.6 993.4,626.2 996.9,627.5 1000.4,628.0 1003.8,627.3 1007.3,626.3 1010.7,625.5 1014.2,623.2 1017.7,620.2 1021.1,617.9 1024.6,618.2 1028.0,619.0 1031.5,619.1 1035.0,620.9 1038.4,621.1 1041.9,622.5 1045.3,623.9 1048.8,627.1 1052.3,630.7 1055.7,635.1 1059.2,637.7 1062.6,640.3 1066.1,642.8 1069.6,645.3 1073.0,647.0 1076.5,647.2 1079.9,648.0 1083.4,649.0 1086.9,652.1 1090.3,655.1 1093.8,657.9 1097.2,658.6 1100.7,660.1 1104.2,660.8 1107.6,660.8 1111.1,658.6 1114.5,656.8 1118.0,655.8 1121.5,654.9 1124.9,654.4 1128.4,653.8 1131.8,652.4 1135.3,652.0 1138.8,651.4 1142.2,651.4 1145.7,653.0 1149.1,655.0 1152.6,657.4 1156.0,662.1 1159.5,666.7 1163.0,671.1 1166.4,673.8 1169.9,675.2 1173.3,677.0 1176.8,677.8 1180.3,677.9 1183.7,676.8 1187.2,676.0 1190.6,674.7 1194.1,670.5 1197.6,668.0 1201.0,665.3" fill="none" stroke="#fbcf3a" stroke-width="1.1"/>
</g>
<line x1="1285.5" x2="1285.5" y1="27" y2="765" stroke="#e0e0e3" stroke-width="1.2"/>
<line x1="10" x2="1350.5" y1="559.5" y2="559.5" stroke="#e0e0e3" stroke-width="1.2"/>
<line x1="10" x2="1350.5" y1="738.5" y2="738.5" stroke="#e0e0e3" stroke-width="1.2"/>
<text x="10.3" y="18.8" font-size="12.5" font-weight="normal" fill="#131722" textLength="360.7" lengthAdjust="spacingAndGlyphs" >ranadagger created with TradingView.com, Oct 08, 2025 16:16 UTC</text>
<text x="1294.0" y="85.8" font-size="12" font-weight="normal" fill="#131722" textLength="46.5" lengthAdjust="spacingAndGlyphs" >4,750.00</text>
<text x="1294.0" y="119.2" font-size="12" font-weight="normal" fill="#131722" textLength="46.5" lengthAdjust="spacingAndGlyphs" >4,500.00</text>
<text x="1294.0" y="253.0" font-size="12" font-weight="normal" fill="#131722" textLength="46.5" lengthAdjust="spacingAndGlyphs" >3,500.00</text>
<text x="1294.0" y="286.5" font-size="12" font-weight="normal" fill="#131722" textLength="46.5" lengthAdjust="spacingAndGlyphs" >3,250.00</text>
<text x="1294.0" y="319.9" font-size="12" font-weight="normal" fill="#131722" textLength="46.5" lengthAdjust="spacingAndGlyphs" >3,000.00</text>
<text x="1294.0" y="353.4" font-size="12" font-weight="normal" fill="#131722" textLength="46.5" lengthAdjust="spacingAndGlyphs" >2,750.00</text>
<text x="1294.0" y="386.8" font-size="12" font-weight="normal" fill="#131722" textLength="46.5" lengthAdjust="spacingAndGlyphs" >2,500.00</text>
<text x="1294.0" y="420.3" font-size="12" font-weight="normal" fill="#131722" textLength="46.5" lengthAdjust="spacingAndGlyphs" >2,250.00</text>
<text x="1294.0" y="453.7" font-size="12" font-weight="normal" fill="#131722" textLength="46.5" lengthAdjust="spacingAndGlyphs" >2,000.00</text>
<text x="1294.0" y="487.2" font-size="12" font-weight="normal" fill="#131722" textLength="46.5" lengthAdjust="spacingAndGlyphs" >1,750.00</text>
<text x="1294.0" y="520.6" font-size="12" font-weight="normal" fill="#131722" textLength="46.5" lengthAdjust="spacingAndGlyphs" >1,500.00</text>
<text x="1294.0" y="554.1" font-size="12" font-weight="normal" fill="#131722" textLength="46.5" lengthAdjust="spacingAndGlyphs" >1,250.00</text>
<rect x="1289.5" y="31" width="57" height="25.5" rx="5" fill="#fff" stroke="#f0f0f0" stroke-width="1.5"/>
<text x="1298.4" y="48.9" font-size="12" font-weight="normal" fill="#131722" textLength="27.6" lengthAdjust="spacingAndGlyphs" >USDT</text>
<rect x="1227" y="112.3" width="58.0" height="16.3" fill="#22ab94" rx="2"/>
<text x="1232.3" y="123.6" font-size="12" font-weight="normal" fill="#fff" textLength="48.2" lengthAdjust="spacingAndGlyphs" stroke="#fff" stroke-width="0.3">ETHUSDT</text>
<rect x="1286" y="112.3" width="59.6" height="44.4" fill="#22ab94" rx="2"/>
<text x="1294.1" y="123.6" font-size="12" font-weight="normal" fill="#fff" textLength="46.2" lengthAdjust="spacingAndGlyphs" stroke="#fff" stroke-width="0.3">4,458.69</text>
<text x="1294.1" y="137.5" font-size="12" font-weight="normal" fill="#fff" textLength="42.7" lengthAdjust="spacingAndGlyphs" stroke="#fff" stroke-width="0.3">+73.66%</text>
<text x="1294.1" y="151.1" font-size="12" font-weight="normal" fill="#cfeee7" textLength="46.2" lengthAdjust="spacingAndGlyphs" stroke="#cfeee7" stroke-width="0.3">07:43:30</text>
<rect x="1235" y="157.4" width="50.0" height="16.3" fill="#f23645" rx="2"/>
<text x="1240.0" y="169.2" font-size="12" font-weight="normal" fill="#fff" textLength="41.2" lengthAdjust="spacingAndGlyphs" stroke="#fff" stroke-width="0.3">SMA:MA</text>
<rect x="1286" y="157.4" width="59.6" height="16.3" fill="#f23645" rx="2"/>
<text x="1294.1" y="169.2" font-size="12" font-weight="normal" fill="#fff" textLength="46.2" lengthAdjust="spacingAndGlyphs" stroke="#fff" stroke-width="0.3">4,404.68</text>
<rect x="1254.3" y="174" width="30.7" height="16.8" fill="#2962ff" rx="2"/>
<text x="1259.0" y="186.2" font-size="12" font-weight="normal" fill="#fff" textLength="22.2" lengthAdjust="spacingAndGlyphs" stroke="#fff" stroke-width="0.3">EMA</text>
<rect x="1286" y="174" width="59.6" height="16.8" fill="#2962ff" rx="2"/>
<text x="1294.1" y="186.2" font-size="12" font-weight="normal" fill="#fff" textLength="46.2" lengthAdjust="spacingAndGlyphs" stroke="#fff" stroke-width="0.3">4,388.84</text>
<rect x="1286" y="191.3" width="59.6" height="33.3" fill="#0000ff" rx="2"/>
<text x="1294.1" y="203.1" font-size="12" font-weight="normal" fill="#fff" textLength="46.2" lengthAdjust="spacingAndGlyphs" stroke="#fff" stroke-width="0.3">4,060.00</text>
<text x="1294.1" y="219.6" font-size="12" font-weight="normal" fill="#fff" textLength="46.2" lengthAdjust="spacingAndGlyphs" stroke="#fff" stroke-width="0.3">3,745.00</text>
<text x="18.4" y="45.8" font-size="12" font-weight="normal" fill="#131722" textLength="192.1" lengthAdjust="spacingAndGlyphs" >Ethereum / TetherUS · 1D · Binance</text>
<text x="217.7" y="45.8" font-size="12" font-weight="normal" fill="#131722" textLength="8.8" lengthAdjust="spacingAndGlyphs" >O</text>
<text x="227.0" y="45.8" font-size="12" font-weight="normal" fill="#22ab94" textLength="45.5" lengthAdjust="spacingAndGlyphs" >4,447.70</text>
<text x="280.0" y="45.8" font-size="12" font-weight="normal" fill="#131722" textLength="8.5" lengthAdjust="spacingAndGlyphs" >H</text>
<text x="288.6" y="45.8" font-size="12" font-weight="normal" fill="#22ab94" textLength="45.4" lengthAdjust="spacingAndGlyphs" >4,522.60</text>
<text x="342.0" y="45.8" font-size="12" font-weight="normal" fill="#131722" textLength="7.5" lengthAdjust="spacingAndGlyphs" >L</text>
<text x="349.0" y="45.8" font-size="12" font-weight="normal" fill="#22ab94" textLength="45.0" lengthAdjust="spacingAndGlyphs" >4,410.08</text>
<text x="402.0" y="45.8" font-size="12" font-weight="normal" fill="#131722" textLength="8.0" lengthAdjust="spacingAndGlyphs" >C</text>
<text x="409.6" y="45.8" font-size="12" font-weight="normal" fill="#22ab94" textLength="45.7" lengthAdjust="spacingAndGlyphs" >4,458.69</text>
<text x="463.5" y="45.8" font-size="12" font-weight="normal" fill="#22ab94" textLength="83.5" lengthAdjust="spacingAndGlyphs" >+10.99 (+0.25%)</text>
<text x="18.4" y="62.9" font-size="12" font-weight="normal" fill="#131722" textLength="81.8" lengthAdjust="spacingAndGlyphs" >EMA (20, close)</text>
<text x="107.7" y="62.9" font-size="12" font-weight="normal" fill="#2962ff" textLength="46.6" lengthAdjust="spacingAndGlyphs" >4,388.84</text>
<text x="18.4" y="79.8" font-size="12" font-weight="normal" fill="#131722" textLength="81.1" lengthAdjust="spacingAndGlyphs" >SMA (50, close)</text>
<text x="106.8" y="79.8" font-size="12" font-weight="normal" fill="#f23645" textLength="46.8" lengthAdjust="spacingAndGlyphs" >4,404.68</text>
<text x="17.9" y="578.8" font-size="12" font-weight="normal" fill="#131722" textLength="76.3" lengthAdjust="spacingAndGlyphs" >RSI (14, close)</text>
<text x="102.0" y="578.8" font-size="12" font-weight="normal" fill="#7e57c2" textLength="29.5" lengthAdjust="spacingAndGlyphs" >53.35</text>
<text x="138.7" y="578.8" font-size="12" font-weight="normal" fill="#f9c623" textLength="29.3" lengthAdjust="spacingAndGlyphs" >49.62</text>
<text x="1294.1" y="592.4" font-size="12" font-weight="normal" fill="#131722" textLength="29.5" lengthAdjust="spacingAndGlyphs" >80.00</text>
<text x="1294.1" y="643.0" font-size="12" font-weight="normal" fill="#131722" textLength="29.5" lengthAdjust="spacingAndGlyphs" >60.00</text>
<text x="1294.1" y="693.6" font-size="12" font-weight="normal" fill="#131722" textLength="29.5" lengthAdjust="spacingAndGlyphs" >40.00</text>
<rect x="1260" y="647.9" width="25.0" height="16.6" fill="#7e57c2" rx="2"/>
<text x="1265.3" y="660.7" font-size="12" font-weight="normal" fill="#fff" textLength="15.7" lengthAdjust="spacingAndGlyphs" stroke="#fff" stroke-width="0.3">RSI</text>
<rect x="1286" y="647.9" width="42.9" height="16.6" fill="#7e57c2" rx="2"/>
<text x="1294.2" y="660.7" font-size="12" font-weight="normal" fill="#fff" textLength="29.5" lengthAdjust="spacingAndGlyphs" stroke="#fff" stroke-width="0.3">53.35</text>
<rect x="1206" y="665.1" width="79.0" height="16.8" fill="#fdd835" rx="2"/>
<text x="1210.4" y="677.5" font-size="12" font-weight="normal" fill="#131722" textLength="71.1" lengthAdjust="spacingAndGlyphs" >RSI-based MA</text>
<rect x="1286" y="665.1" width="42.9" height="16.8" fill="#fdd835" rx="2"/>
<text x="1294.2" y="677.5" font-size="12" font-weight="normal" fill="#131722" textLength="29.5" lengthAdjust="spacingAndGlyphs" >49.62</text>
<text x="11.0" y="756.2" font-size="12" font-weight="normal" fill="#131722" textLength="19.5" lengthAdjust="spacingAndGlyphs" >Nov</text>
<text x="116.0" y="756.2" font-size="12" font-weight="normal" fill="#131722" textLength="19.3" lengthAdjust="spacingAndGlyphs" >Dec</text>
<text x="219.0" y="756.2" font-size="12" font-weight="bold" fill="#131722" textLength="27.3" lengthAdjust="spacingAndGlyphs" >2025</text>
<text x="330.0" y="756.2" font-size="12" font-weight="normal" fill="#131722" textLength="18.8" lengthAdjust="spacingAndGlyphs" >Feb</text>
<text x="426.5" y="756.2" font-size="12" font-weight="normal" fill="#131722" textLength="19.8" lengthAdjust="spacingAndGlyphs" >Mar</text>
<text x="534.0" y="756.2" font-size="12" font-weight="normal" fill="#131722" textLength="19.3" lengthAdjust="spacingAndGlyphs" >Apr</text>
<text x="637.5" y="756.2" font-size="12" font-weight="normal" fill="#131722" textLength="20.8" lengthAdjust="spacingAndGlyphs" >May</text>
<text x="745.0" y="756.2" font-size="12" font-weight="normal" fill="#131722" textLength="19.3" lengthAdjust="spacingAndGlyphs" >Jun</text>
<text x="849.0" y="756.2" font-size="12" font-weight="normal" fill="#131722" textLength="17.3" lengthAdjust="spacingAndGlyphs" >Jul</text>
<text x="955.0" y="756.2" font-size="12" font-weight="normal" fill="#131722" textLength="20.3" lengthAdjust="spacingAndGlyphs" >Aug</text>
<text x="1063.0" y="756.2" font-size="12" font-weight="normal" fill="#131722" textLength="19.3" lengthAdjust="spacingAndGlyphs" >Sep</text>
<text x="1166.5" y="756.2" font-size="12" font-weight="normal" fill="#131722" textLength="18.8" lengthAdjust="spacingAndGlyphs" >Oct</text>
<text x="1273.0" y="756.2" font-size="12" font-weight="normal" fill="#131722" textLength="19.0" lengthAdjust="spacingAndGlyphs" >Nov</text>
<rect x="1286.3" y="739.3" width="63.5" height="25.5" fill="#fff"/>
<path d="M1204.9,536.9 A9.7,9.7 0 1 0 1211.1,543.6" fill="none" stroke="#9c27b0" stroke-width="1.6"/>
<path d="M1203.6,541.9 L1197.9,546.6 L1205.2,546.3 L1198.6,551.4" fill="none" stroke="#9c27b0" stroke-width="1.6" stroke-linejoin="round" stroke-linecap="round"/>
<circle cx="1208.4" cy="539.4" r="2.5" fill="#f23645"/>
<g fill="#131722"><path d="M12.07,788.06 H23.88 V802.8 H18.15 V793.6 H12.07 Z"/><circle cx="28.9" cy="790.96" r="2.85"/><path d="M35.1,788.06 H41.7 L35.9,802.8 H29.1 Z"/></g>
<text x="49.1" y="802.7" font-size="20" font-weight="bold" fill="#131722" textLength="120.9" lengthAdjust="spacingAndGlyphs" >TradingView</text>
</svg></body></html>
